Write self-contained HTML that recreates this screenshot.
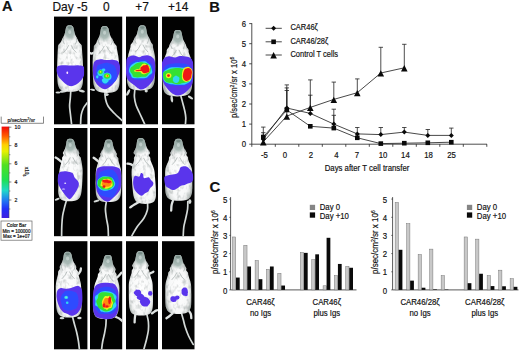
<!DOCTYPE html>
<html><head><meta charset="utf-8"><title>Figure</title>
<style>
html,body{margin:0;padding:0;background:#fff;}
body{width:520px;height:350px;overflow:hidden;font-family:"Liberation Sans",sans-serif;}
svg{display:block;}
svg text{font-family:"Liberation Sans",sans-serif;fill:#111;stroke:#111;stroke-width:0.18px;}
</style></head><body>
<svg width="520" height="350" viewBox="0 0 520 350">
<rect width="520" height="350" fill="#ffffff"/>
<defs>
<filter id="fz" x="-20%" y="-20%" width="140%" height="140%"><feGaussianBlur stdDeviation="0.55"/></filter>
<filter id="fz2" x="-20%" y="-20%" width="140%" height="140%"><feGaussianBlur stdDeviation="0.35"/></filter>
<radialGradient id="hg"><stop offset="0" stop-color="#93a8a3" stop-opacity="0.95"/><stop offset="0.6" stop-color="#9db0ab" stop-opacity="0.8"/><stop offset="1" stop-color="#b5c4c0" stop-opacity="0"/></radialGradient>
<filter id="fur" x="-10%" y="-10%" width="120%" height="120%">
<feTurbulence type="fractalNoise" baseFrequency="0.3 0.2" numOctaves="2" seed="11" result="n"/>
<feColorMatrix in="n" type="matrix" values="0 0 0 0 0  0 0 0 0 0  0 0 0 0 0  1.8 0 0 0 -0.86" result="a"/>
<feComposite in="a" in2="SourceGraphic" operator="in" result="sp"/>
<feFlood flood-color="#a3abaa" result="c"/><feComposite in="c" in2="sp" operator="in" result="dark"/>
<feMerge><feMergeNode in="SourceGraphic"/><feMergeNode in="dark"/></feMerge>
</filter>

<clipPath id="mc0"><path d="M69.70,24.20C70.34,24.20 71.11,24.20 71.63,24.41C72.16,24.61 72.51,24.95 72.84,25.43C73.16,25.91 73.38,26.51 73.59,27.28C73.80,28.04 73.92,29.09 74.12,30.01C74.32,30.94 74.53,31.96 74.79,32.82C75.05,33.67 75.35,34.41 75.68,35.14C76.02,35.87 76.40,36.42 76.81,37.20C77.21,37.97 77.54,38.97 78.12,39.80C78.69,40.62 79.53,41.30 80.26,42.12C80.99,42.94 82.05,43.77 82.49,44.72C82.93,45.67 82.73,45.75 82.91,47.80C83.09,49.85 83.37,53.90 83.57,57.03C83.76,60.17 83.97,63.19 84.07,66.61C84.17,70.03 84.28,74.36 84.17,77.55C84.06,80.74 84.13,83.54 83.40,85.76C82.67,87.98 81.99,89.75 79.80,90.89C77.62,92.03 73.47,92.60 70.30,92.60C67.13,92.60 62.97,92.03 60.76,90.89C58.56,89.75 57.85,87.98 57.08,85.76C56.31,83.54 56.34,80.74 56.17,77.55C56.00,74.36 56.03,70.03 56.07,66.61C56.11,63.19 56.27,60.17 56.41,57.03C56.55,53.90 56.76,49.85 56.91,47.80C57.05,45.75 56.84,45.67 57.27,44.72C57.70,43.77 58.74,42.94 59.46,42.12C60.17,41.30 61.00,40.62 61.56,39.80C62.12,38.97 62.43,37.97 62.82,37.20C63.21,36.42 63.58,35.87 63.91,35.14C64.23,34.41 64.52,33.67 64.76,32.82C65.01,31.96 65.20,30.94 65.38,30.01C65.56,29.09 65.66,28.04 65.86,27.28C66.06,26.51 66.26,25.91 66.58,25.43C66.90,24.95 67.25,24.61 67.77,24.41C68.29,24.20 69.06,24.20 69.70,24.20Z"/></clipPath>
<clipPath id="bc0"><path d="M69.70,25.20C70.34,25.20 71.11,25.20 71.63,25.40C72.16,25.60 72.51,25.93 72.84,26.40C73.16,26.86 73.38,27.45 73.59,28.20C73.80,28.94 73.92,29.96 74.12,30.86C74.32,31.76 74.53,32.76 74.79,33.59C75.05,34.42 75.35,35.15 75.68,35.86C76.02,36.57 76.40,37.10 76.81,37.85C77.21,38.61 77.67,39.59 78.12,40.38C78.56,41.18 78.89,41.85 79.46,42.65C80.02,43.45 81.11,44.26 81.52,45.18C81.93,46.10 81.74,46.18 81.91,48.18C82.07,50.17 82.32,54.12 82.50,57.17C82.68,60.22 82.88,63.16 82.97,66.49C83.07,69.82 83.17,74.04 83.07,77.15C82.97,80.26 83.03,82.98 82.37,85.14C81.70,87.30 81.07,89.02 79.06,90.13C77.05,91.24 73.22,91.80 70.30,91.80C67.38,91.80 63.54,91.24 61.51,90.13C59.48,89.02 58.82,87.30 58.11,85.14C57.41,82.98 57.42,80.26 57.27,77.15C57.11,74.04 57.14,69.82 57.17,66.49C57.21,63.16 57.35,60.22 57.48,57.17C57.60,54.12 57.78,50.17 57.91,48.18C58.03,46.18 57.85,46.10 58.24,45.18C58.63,44.26 59.70,43.45 60.26,42.65C60.81,41.85 61.13,41.18 61.56,40.38C61.98,39.59 62.43,38.61 62.82,37.85C63.21,37.10 63.58,36.57 63.91,35.86C64.23,35.15 64.52,34.42 64.76,33.59C65.01,32.76 65.20,31.76 65.38,30.86C65.56,29.96 65.66,28.94 65.86,28.20C66.06,27.45 66.26,26.86 66.58,26.40C66.90,25.93 67.25,25.60 67.77,25.40C68.29,25.20 69.06,25.20 69.70,25.20Z"/></clipPath>
<radialGradient id="mg0" gradientUnits="userSpaceOnUse" cx="70.3" cy="64.5" r="35.3" gradientTransform="translate(70.3,0.0) scale(0.43,1) translate(-70.3,0.0)"><stop offset="0" stop-color="#ffffff"/><stop offset="0.70" stop-color="#f7f8f8"/><stop offset="0.88" stop-color="#dfe2e1"/><stop offset="1" stop-color="#a9b0ae"/></radialGradient>
<clipPath id="pc0"><rect x="54.0" y="16.6" width="33.4" height="107.7"/></clipPath>
<clipPath id="mc1"><path d="M104.60,25.00C105.24,25.00 106.01,25.00 106.54,25.21C107.07,25.41 107.43,25.76 107.77,26.24C108.11,26.72 108.33,27.33 108.56,28.10C108.79,28.86 108.94,29.92 109.16,30.85C109.38,31.78 109.61,32.81 109.89,33.67C110.17,34.53 110.49,35.27 110.84,36.01C111.19,36.74 111.59,37.29 112.01,38.07C112.43,38.85 112.84,39.86 113.38,40.69C113.92,41.51 114.57,42.20 115.26,43.03C115.94,43.85 117.03,44.69 117.48,45.64C117.93,46.59 117.60,46.67 117.96,48.74C118.32,50.80 119.22,54.87 119.62,58.02C120.02,61.18 120.18,64.22 120.36,67.66C120.55,71.10 120.76,75.45 120.72,78.66C120.67,81.87 120.81,84.68 120.12,86.92C119.42,89.16 118.76,90.93 116.54,92.08C114.32,93.23 110.06,93.80 106.80,93.80C103.54,93.80 99.25,93.23 96.95,92.08C94.66,90.93 93.88,89.16 93.04,86.92C92.20,84.68 92.16,81.87 91.92,78.66C91.67,75.45 91.60,71.10 91.56,67.66C91.53,64.22 91.49,61.18 91.69,58.02C91.89,54.87 92.53,50.80 92.76,48.74C92.98,46.67 92.65,46.59 93.04,45.64C93.43,44.69 94.47,43.85 95.10,43.03C95.73,42.20 96.33,41.51 96.82,40.69C97.31,39.86 97.65,38.85 98.03,38.07C98.40,37.29 98.76,36.74 99.06,36.01C99.37,35.27 99.64,34.53 99.86,33.67C100.09,32.81 100.26,31.78 100.42,30.85C100.58,29.92 100.65,28.86 100.83,28.10C101.02,27.33 101.20,26.72 101.51,26.24C101.82,25.76 102.16,25.41 102.67,25.21C103.19,25.00 103.96,25.00 104.60,25.00Z"/></clipPath>
<clipPath id="bc1"><path d="M104.60,26.00C105.24,26.00 106.01,26.00 106.54,26.20C107.07,26.40 107.43,26.74 107.77,27.21C108.11,27.68 108.33,28.27 108.56,29.02C108.79,29.76 108.94,30.79 109.16,31.70C109.38,32.60 109.61,33.60 109.89,34.44C110.17,35.28 110.49,36.01 110.84,36.72C111.19,37.43 111.59,37.97 112.01,38.73C112.43,39.49 112.97,40.47 113.38,41.28C113.79,42.08 113.93,42.75 114.46,43.55C114.98,44.36 116.09,45.17 116.51,46.10C116.93,47.03 116.62,47.10 116.96,49.11C117.30,51.12 118.17,55.09 118.56,58.16C118.94,61.23 119.09,64.19 119.26,67.54C119.44,70.89 119.65,75.13 119.62,78.26C119.59,81.39 119.72,84.12 119.08,86.30C118.44,88.48 117.84,90.21 115.79,91.33C113.74,92.44 109.81,93.00 106.80,93.00C103.79,93.00 99.82,92.44 97.70,91.33C95.58,90.21 94.86,88.48 94.08,86.30C93.30,84.12 93.25,81.39 93.02,78.26C92.78,75.13 92.71,70.89 92.66,67.54C92.62,64.19 92.57,61.23 92.75,58.16C92.94,55.09 93.55,51.12 93.76,49.11C93.97,47.10 93.65,47.03 94.01,46.10C94.36,45.17 95.43,44.36 95.90,43.55C96.37,42.75 96.47,42.08 96.82,41.28C97.18,40.47 97.65,39.49 98.03,38.73C98.40,37.97 98.76,37.43 99.06,36.72C99.37,36.01 99.64,35.28 99.86,34.44C100.09,33.60 100.26,32.60 100.42,31.70C100.58,30.79 100.65,29.76 100.83,29.02C101.02,28.27 101.20,27.68 101.51,27.21C101.82,26.74 102.16,26.40 102.67,26.20C103.19,26.00 103.96,26.00 104.60,26.00Z"/></clipPath>
<radialGradient id="mg1" gradientUnits="userSpaceOnUse" cx="106.8" cy="65.5" r="35.5" gradientTransform="translate(106.8,0.0) scale(0.43,1) translate(-106.8,0.0)"><stop offset="0" stop-color="#ffffff"/><stop offset="0.70" stop-color="#f7f8f8"/><stop offset="0.88" stop-color="#dfe2e1"/><stop offset="1" stop-color="#a9b0ae"/></radialGradient>
<clipPath id="pc1"><rect x="90.0" y="16.6" width="32.2" height="107.7"/></clipPath>
<clipPath id="mc2"><path d="M142.30,24.20C142.94,24.20 143.71,24.20 144.23,24.40C144.74,24.60 145.09,24.94 145.40,25.41C145.71,25.88 145.90,26.47 146.09,27.22C146.28,27.97 146.36,29.00 146.53,29.90C146.69,30.81 146.87,31.82 147.10,32.65C147.33,33.49 147.60,34.22 147.92,34.94C148.23,35.65 148.59,36.19 148.97,36.95C149.35,37.71 149.72,38.69 150.19,39.50C150.66,40.30 151.17,40.97 151.77,41.78C152.38,42.59 153.43,43.40 153.82,44.33C154.21,45.26 153.73,45.34 154.11,47.35C154.50,49.36 155.76,53.33 156.13,56.41C156.50,59.48 156.36,62.45 156.35,65.80C156.34,69.16 156.30,73.41 156.07,76.54C155.84,79.67 155.82,82.41 154.96,84.59C154.10,86.77 153.30,88.50 150.91,89.62C148.52,90.74 144.02,91.30 140.60,91.30C137.18,91.30 132.71,90.74 130.37,89.62C128.04,88.50 127.33,86.77 126.58,84.59C125.83,82.41 125.95,79.67 125.87,76.54C125.80,73.41 125.99,69.16 126.15,65.80C126.31,62.45 126.31,59.48 126.84,56.41C127.36,53.33 128.83,49.36 129.31,47.35C129.80,45.34 129.33,45.26 129.76,44.33C130.20,43.40 131.29,42.59 131.93,41.78C132.58,40.97 133.12,40.30 133.63,39.50C134.14,38.69 134.57,37.71 134.99,36.95C135.40,36.19 135.79,35.65 136.14,34.94C136.49,34.22 136.80,33.49 137.07,32.65C137.35,31.82 137.57,30.81 137.79,29.90C138.00,29.00 138.13,27.97 138.36,27.22C138.59,26.47 138.81,25.88 139.14,25.41C139.48,24.94 139.84,24.60 140.36,24.40C140.89,24.20 141.66,24.20 142.30,24.20Z"/></clipPath>
<clipPath id="bc2"><path d="M142.30,25.20C142.94,25.20 143.71,25.20 144.23,25.40C144.74,25.59 145.09,25.92 145.40,26.38C145.71,26.83 145.90,27.41 146.09,28.14C146.28,28.87 146.36,29.87 146.53,30.75C146.69,31.63 146.87,32.61 147.10,33.43C147.33,34.24 147.60,34.95 147.92,35.65C148.23,36.34 148.59,36.87 148.97,37.61C149.35,38.35 149.86,39.30 150.19,40.09C150.53,40.87 150.53,41.52 150.97,42.31C151.42,43.09 152.49,43.89 152.85,44.79C153.20,45.69 152.74,45.77 153.11,47.73C153.48,49.69 154.71,53.55 155.06,56.54C155.42,59.54 155.26,62.42 155.25,65.69C155.23,68.95 155.19,73.09 154.97,76.13C154.75,79.18 154.73,81.85 153.93,83.97C153.13,86.09 152.38,87.78 150.16,88.87C147.94,89.96 143.77,90.50 140.60,90.50C137.43,90.50 133.29,89.96 131.12,88.87C128.96,87.78 128.30,86.09 127.61,83.97C126.92,81.85 127.03,79.18 126.97,76.13C126.91,73.09 127.09,68.95 127.25,65.69C127.40,62.42 127.39,59.54 127.90,56.54C128.42,53.55 129.84,49.69 130.31,47.73C130.78,45.77 130.33,45.69 130.73,44.79C131.14,43.89 132.25,43.09 132.73,42.31C133.22,41.52 133.26,40.87 133.63,40.09C134.01,39.30 134.57,38.35 134.99,37.61C135.40,36.87 135.79,36.34 136.14,35.65C136.49,34.95 136.80,34.24 137.07,33.43C137.35,32.61 137.57,31.63 137.79,30.75C138.00,29.87 138.13,28.87 138.36,28.14C138.59,27.41 138.81,26.83 139.14,26.38C139.48,25.92 139.84,25.59 140.36,25.40C140.89,25.20 141.66,25.20 142.30,25.20Z"/></clipPath>
<radialGradient id="mg2" gradientUnits="userSpaceOnUse" cx="140.6" cy="63.9" r="34.6" gradientTransform="translate(140.6,0.0) scale(0.43,1) translate(-140.6,0.0)"><stop offset="0" stop-color="#ffffff"/><stop offset="0.70" stop-color="#f7f8f8"/><stop offset="0.88" stop-color="#dfe2e1"/><stop offset="1" stop-color="#a9b0ae"/></radialGradient>
<clipPath id="pc2"><rect x="126.0" y="16.6" width="32.0" height="107.7"/></clipPath>
<clipPath id="mc3"><path d="M177.80,28.90C178.44,28.90 179.21,28.90 179.73,29.11C180.25,29.31 180.60,29.65 180.92,30.13C181.24,30.61 181.44,31.21 181.65,31.98C181.85,32.74 181.95,33.79 182.14,34.71C182.32,35.64 182.52,36.66 182.76,37.52C183.01,38.37 183.30,39.11 183.62,39.84C183.95,40.57 184.32,41.12 184.72,41.90C185.11,42.67 185.53,43.67 185.99,44.50C186.45,45.32 186.87,46.00 187.46,46.82C188.04,47.64 189.11,48.47 189.51,49.42C189.92,50.37 189.28,50.45 189.86,52.50C190.45,54.55 192.43,58.60 193.03,61.73C193.63,64.87 193.39,67.89 193.45,71.31C193.51,74.73 193.57,79.06 193.39,82.25C193.21,85.44 193.25,88.24 192.39,90.46C191.53,92.68 190.72,94.45 188.22,95.59C185.72,96.73 181.00,97.30 177.40,97.30C173.80,97.30 169.08,96.73 166.60,95.59C164.11,94.45 163.33,92.68 162.49,90.46C161.66,88.24 161.73,85.44 161.59,82.25C161.45,79.06 161.55,74.73 161.65,71.31C161.75,67.89 161.55,64.87 162.19,61.73C162.82,58.60 164.85,54.55 165.46,52.50C166.07,50.45 165.43,50.37 165.85,49.42C166.26,48.47 167.34,47.64 167.94,46.82C168.53,46.00 168.96,45.32 169.43,44.50C169.89,43.67 170.33,42.67 170.73,41.90C171.14,41.12 171.51,40.57 171.85,39.84C172.18,39.11 172.48,38.37 172.74,37.52C172.99,36.66 173.20,35.64 173.40,34.71C173.59,33.79 173.71,32.74 173.92,31.98C174.13,31.21 174.34,30.61 174.66,30.13C174.99,29.65 175.34,29.31 175.87,29.11C176.39,28.90 177.16,28.90 177.80,28.90Z"/></clipPath>
<clipPath id="bc3"><path d="M177.80,29.90C178.44,29.90 179.21,29.90 179.73,30.10C180.25,30.30 180.60,30.63 180.92,31.10C181.24,31.56 181.44,32.15 181.65,32.90C181.85,33.64 181.95,34.66 182.14,35.56C182.32,36.46 182.52,37.46 182.76,38.29C183.01,39.12 183.30,39.85 183.62,40.56C183.95,41.27 184.32,41.80 184.72,42.55C185.11,43.31 185.67,44.29 185.99,45.08C186.31,45.88 186.23,46.55 186.66,47.35C187.08,48.15 188.18,48.96 188.54,49.88C188.91,50.80 188.29,50.88 188.86,52.88C189.43,54.87 191.38,58.82 191.96,61.87C192.55,64.92 192.30,67.86 192.35,71.19C192.41,74.52 192.45,78.74 192.29,81.85C192.12,84.96 192.15,87.68 191.35,89.84C190.55,92.00 189.80,93.72 187.47,94.83C185.15,95.94 180.75,96.50 177.40,96.50C174.05,96.50 169.66,95.94 167.35,94.83C165.03,93.72 164.30,92.00 163.53,89.84C162.75,87.68 162.82,84.96 162.69,81.85C162.56,78.74 162.66,74.52 162.75,71.19C162.85,67.86 162.63,64.92 163.25,61.87C163.87,58.82 165.87,54.87 166.46,52.88C167.06,50.88 166.44,50.80 166.82,49.88C167.19,48.96 168.30,48.15 168.74,47.35C169.17,46.55 169.10,45.88 169.43,45.08C169.76,44.29 170.33,43.31 170.73,42.55C171.14,41.80 171.51,41.27 171.85,40.56C172.18,39.85 172.48,39.12 172.74,38.29C172.99,37.46 173.20,36.46 173.40,35.56C173.59,34.66 173.71,33.64 173.92,32.90C174.13,32.15 174.34,31.56 174.66,31.10C174.99,30.63 175.34,30.30 175.87,30.10C176.39,29.90 177.16,29.90 177.80,29.90Z"/></clipPath>
<radialGradient id="mg3" gradientUnits="userSpaceOnUse" cx="177.4" cy="69.2" r="35.3" gradientTransform="translate(177.4,0.0) scale(0.43,1) translate(-177.4,0.0)"><stop offset="0" stop-color="#ffffff"/><stop offset="0.70" stop-color="#f7f8f8"/><stop offset="0.88" stop-color="#dfe2e1"/><stop offset="1" stop-color="#a9b0ae"/></radialGradient>
<clipPath id="pc3"><rect x="162.0" y="16.6" width="32.5" height="107.7"/></clipPath>
<clipPath id="mc4"><path d="M70.20,137.80C70.84,137.80 71.61,137.80 72.14,137.99C72.68,138.19 73.05,138.51 73.40,138.96C73.75,139.41 73.99,139.97 74.25,140.69C74.50,141.41 74.67,142.39 74.91,143.26C75.16,144.12 75.42,145.09 75.72,145.89C76.02,146.69 76.36,147.39 76.73,148.07C77.11,148.76 77.51,149.27 77.96,150.00C78.40,150.73 79.10,151.67 79.40,152.44C79.69,153.21 79.35,153.85 79.74,154.62C80.12,155.39 81.28,156.17 81.69,157.06C82.10,157.95 81.86,158.02 82.19,159.95C82.52,161.88 83.45,165.67 83.68,168.62C83.91,171.56 83.70,174.39 83.59,177.60C83.49,180.81 83.34,184.88 83.05,187.88C82.76,190.87 82.66,193.49 81.87,195.58C81.07,197.67 80.33,199.32 78.26,200.39C76.18,201.46 72.32,202.00 69.40,202.00C66.48,202.00 62.68,201.46 60.71,200.39C58.75,199.32 58.19,197.67 57.61,195.58C57.04,193.49 57.22,190.87 57.25,187.88C57.28,184.88 57.56,180.81 57.79,177.60C58.03,174.39 58.12,171.56 58.66,168.62C59.19,165.67 60.58,161.88 60.99,159.95C61.40,158.02 60.83,157.95 61.13,157.06C61.42,156.17 62.49,155.39 62.78,154.62C63.06,153.85 62.64,153.21 62.84,152.44C63.04,151.67 63.62,150.73 63.97,150.00C64.33,149.27 64.67,148.76 64.96,148.07C65.24,147.39 65.49,146.69 65.69,145.89C65.90,145.09 66.04,144.12 66.17,143.26C66.31,142.39 66.36,141.41 66.52,140.69C66.68,139.97 66.85,139.41 67.14,138.96C67.44,138.51 67.77,138.19 68.28,137.99C68.79,137.80 69.56,137.80 70.20,137.80Z"/></clipPath>
<clipPath id="bc4"><path d="M70.20,138.80C70.84,138.80 71.61,138.80 72.14,138.99C72.68,139.17 73.05,139.49 73.40,139.92C73.75,140.36 73.99,140.91 74.25,141.61C74.50,142.30 74.67,143.26 74.91,144.10C75.16,144.95 75.42,145.88 75.72,146.66C76.02,147.44 76.36,148.12 76.73,148.78C77.11,149.45 77.51,149.95 77.96,150.66C78.40,151.36 79.24,152.28 79.40,153.03C79.56,153.78 78.72,154.40 78.94,155.15C79.16,155.90 80.34,156.66 80.72,157.52C81.10,158.38 80.87,158.46 81.19,160.33C81.51,162.20 82.40,165.89 82.61,168.75C82.83,171.61 82.60,174.37 82.49,177.49C82.38,180.61 82.22,184.56 81.95,187.47C81.67,190.38 81.57,192.93 80.83,194.96C80.09,196.99 79.41,198.60 77.51,199.64C75.60,200.68 72.07,201.20 69.40,201.20C66.73,201.20 63.25,200.68 61.46,199.64C59.67,198.60 59.17,196.99 58.65,194.96C58.13,192.93 58.31,190.38 58.35,187.47C58.39,184.56 58.66,180.61 58.89,177.49C59.12,174.37 59.21,171.61 59.72,168.75C60.24,165.89 61.59,162.20 61.99,160.33C62.39,158.46 61.83,158.38 62.10,157.52C62.36,156.66 63.45,155.90 63.58,155.15C63.70,154.40 62.77,153.78 62.84,153.03C62.90,152.28 63.62,151.36 63.97,150.66C64.33,149.95 64.67,149.45 64.96,148.78C65.24,148.12 65.49,147.44 65.69,146.66C65.90,145.88 66.04,144.95 66.17,144.10C66.31,143.26 66.36,142.30 66.52,141.61C66.68,140.91 66.85,140.36 67.14,139.92C67.44,139.49 67.77,139.17 68.28,138.99C68.79,138.80 69.56,138.80 70.20,138.80Z"/></clipPath>
<radialGradient id="mg4" gradientUnits="userSpaceOnUse" cx="69.4" cy="176.0" r="33.2" gradientTransform="translate(69.4,0.0) scale(0.43,1) translate(-69.4,0.0)"><stop offset="0" stop-color="#ffffff"/><stop offset="0.70" stop-color="#f7f8f8"/><stop offset="0.88" stop-color="#dfe2e1"/><stop offset="1" stop-color="#a9b0ae"/></radialGradient>
<clipPath id="pc4"><rect x="54.0" y="128.0" width="33.4" height="108.2"/></clipPath>
<clipPath id="mc5"><path d="M108.60,138.60C109.24,138.60 110.01,138.60 110.53,138.79C111.05,138.99 111.40,139.31 111.72,139.76C112.05,140.20 112.25,140.77 112.46,141.49C112.66,142.21 112.76,143.19 112.95,144.06C113.14,144.92 113.34,145.89 113.59,146.69C113.84,147.49 114.13,148.19 114.46,148.87C114.78,149.56 115.16,150.07 115.55,150.80C115.95,151.53 116.54,152.47 116.83,153.24C117.13,154.01 116.95,154.65 117.35,155.42C117.74,156.19 118.85,156.97 119.21,157.86C119.57,158.75 119.07,158.82 119.53,160.75C119.99,162.67 121.51,166.47 121.99,169.42C122.46,172.36 122.32,175.19 122.38,178.40C122.44,181.61 122.49,185.68 122.34,188.68C122.20,191.67 122.23,194.29 121.49,196.38C120.74,198.47 120.04,200.12 117.86,201.19C115.68,202.26 111.55,202.80 108.40,202.80C105.25,202.80 101.13,202.26 98.95,201.19C96.78,200.12 96.09,198.47 95.35,196.38C94.62,194.29 94.67,191.67 94.54,188.68C94.41,185.68 94.50,181.61 94.58,178.40C94.66,175.19 94.53,172.36 95.02,169.42C95.51,166.47 97.06,162.67 97.53,160.75C98.01,158.82 97.50,158.75 97.87,157.86C98.24,156.97 99.35,156.19 99.75,155.42C100.15,154.65 99.97,154.01 100.27,153.24C100.58,152.47 101.17,151.53 101.57,150.80C101.97,150.07 102.35,149.56 102.68,148.87C103.01,148.19 103.31,147.49 103.56,146.69C103.82,145.89 104.02,144.92 104.21,144.06C104.41,143.19 104.52,142.21 104.73,141.49C104.94,140.77 105.15,140.20 105.47,139.76C105.79,139.31 106.15,138.99 106.67,138.79C107.19,138.60 107.96,138.60 108.60,138.60Z"/></clipPath>
<clipPath id="bc5"><path d="M108.60,139.60C109.24,139.60 110.01,139.60 110.53,139.79C111.05,139.97 111.40,140.29 111.72,140.72C112.05,141.16 112.25,141.71 112.46,142.41C112.66,143.10 112.76,144.06 112.95,144.90C113.14,145.75 113.34,146.68 113.59,147.46C113.84,148.24 114.13,148.92 114.46,149.58C114.78,150.25 115.16,150.75 115.55,151.46C115.95,152.16 116.67,153.08 116.83,153.83C117.00,154.58 116.31,155.20 116.55,155.95C116.78,156.70 117.91,157.46 118.24,158.32C118.57,159.18 118.08,159.26 118.53,161.13C118.98,163.00 120.46,166.69 120.92,169.55C121.38,172.41 121.22,175.17 121.28,178.29C121.33,181.41 121.38,185.36 121.24,188.27C121.11,191.18 121.14,193.73 120.45,195.76C119.76,197.79 119.12,199.40 117.11,200.44C115.10,201.48 111.30,202.00 108.40,202.00C105.50,202.00 101.70,201.48 99.70,200.44C97.70,199.40 97.06,197.79 96.39,195.76C95.71,193.73 95.76,191.18 95.64,188.27C95.53,185.36 95.60,181.41 95.68,178.29C95.75,175.17 95.61,172.41 96.09,169.55C96.56,166.69 98.07,163.00 98.53,161.13C98.99,159.26 98.50,159.18 98.84,158.32C99.18,157.46 100.31,156.70 100.55,155.95C100.79,155.20 100.10,154.58 100.27,153.83C100.44,153.08 101.17,152.16 101.57,151.46C101.97,150.75 102.35,150.25 102.68,149.58C103.01,148.92 103.31,148.24 103.56,147.46C103.82,146.68 104.02,145.75 104.21,144.90C104.41,144.06 104.52,143.10 104.73,142.41C104.94,141.71 105.15,141.16 105.47,140.72C105.79,140.29 106.15,139.97 106.67,139.79C107.19,139.60 107.96,139.60 108.60,139.60Z"/></clipPath>
<radialGradient id="mg5" gradientUnits="userSpaceOnUse" cx="108.4" cy="176.8" r="33.2" gradientTransform="translate(108.4,0.0) scale(0.43,1) translate(-108.4,0.0)"><stop offset="0" stop-color="#ffffff"/><stop offset="0.70" stop-color="#f7f8f8"/><stop offset="0.88" stop-color="#dfe2e1"/><stop offset="1" stop-color="#a9b0ae"/></radialGradient>
<clipPath id="pc5"><rect x="90.0" y="128.0" width="32.2" height="108.2"/></clipPath>
<clipPath id="mc6"><path d="M140.70,137.00C141.34,137.00 142.11,137.00 142.65,137.20C143.18,137.41 143.56,137.75 143.91,138.22C144.26,138.70 144.51,139.29 144.77,140.05C145.03,140.81 145.21,141.85 145.46,142.76C145.71,143.68 145.98,144.70 146.29,145.54C146.60,146.39 146.95,147.12 147.32,147.85C147.70,148.57 148.12,149.11 148.57,149.88C149.02,150.65 149.89,151.64 150.03,152.46C150.17,153.27 149.23,153.95 149.43,154.76C149.62,155.58 150.82,156.40 151.20,157.34C151.57,158.28 151.02,158.36 151.69,160.39C152.36,162.42 154.47,166.44 155.23,169.54C155.99,172.65 155.96,175.65 156.25,179.04C156.55,182.43 156.90,186.72 156.99,189.88C157.08,193.05 157.31,195.82 156.78,198.02C156.25,200.22 155.73,201.98 153.82,203.11C151.91,204.24 148.18,204.80 145.30,204.80C142.42,204.80 138.62,204.24 136.55,203.11C134.48,201.98 133.73,200.22 132.90,198.02C132.08,195.82 131.93,193.05 131.59,189.88C131.25,186.72 131.02,182.43 130.85,179.04C130.69,175.65 130.25,172.65 130.59,169.54C130.93,166.44 132.49,162.42 132.89,160.39C133.28,158.36 132.71,158.28 132.96,157.34C133.21,156.40 134.30,155.58 134.39,154.76C134.47,153.95 133.44,153.27 133.47,152.46C133.50,151.64 134.24,150.65 134.58,149.88C134.93,149.11 135.27,148.57 135.55,147.85C135.83,147.12 136.07,146.39 136.27,145.54C136.46,144.70 136.59,143.68 136.72,142.76C136.85,141.85 136.89,140.81 137.04,140.05C137.20,139.29 137.37,138.70 137.65,138.22C137.94,137.75 138.27,137.41 138.78,137.20C139.29,137.00 140.06,137.00 140.70,137.00Z"/></clipPath>
<clipPath id="bc6"><path d="M140.70,138.00C141.34,138.00 142.11,138.00 142.65,138.20C143.18,138.40 143.56,138.73 143.91,139.19C144.26,139.65 144.51,140.23 144.77,140.97C145.03,141.71 145.21,142.72 145.46,143.61C145.71,144.50 145.98,145.49 146.29,146.32C146.60,147.14 146.95,147.86 147.32,148.56C147.70,149.26 148.12,149.79 148.57,150.54C149.02,151.29 150.02,152.26 150.03,153.05C150.04,153.84 148.59,154.50 148.63,155.29C148.66,156.08 149.88,156.89 150.23,157.80C150.57,158.71 150.03,158.79 150.69,160.77C151.34,162.75 153.42,166.66 154.16,169.68C154.90,172.71 154.86,175.62 155.15,178.92C155.44,182.22 155.79,186.40 155.89,189.48C155.99,192.56 156.21,195.25 155.74,197.40C155.27,199.55 154.81,201.25 153.07,202.35C151.33,203.45 147.93,204.00 145.30,204.00C142.67,204.00 139.19,203.45 137.30,202.35C135.40,201.25 134.70,199.55 133.94,197.40C133.17,195.25 133.02,192.56 132.69,189.48C132.36,186.40 132.12,182.22 131.95,178.92C131.78,175.62 131.33,172.71 131.66,169.68C131.98,166.66 133.51,162.75 133.89,160.77C134.27,158.79 133.72,158.71 133.93,157.80C134.15,156.89 135.26,156.08 135.19,155.29C135.11,154.50 133.57,153.84 133.47,153.05C133.37,152.26 134.24,151.29 134.58,150.54C134.93,149.79 135.27,149.26 135.55,148.56C135.83,147.86 136.07,147.14 136.27,146.32C136.46,145.49 136.59,144.50 136.72,143.61C136.85,142.72 136.89,141.71 137.04,140.97C137.20,140.23 137.37,139.65 137.65,139.19C137.94,138.73 138.27,138.40 138.78,138.20C139.29,138.00 140.06,138.00 140.70,138.00Z"/></clipPath>
<radialGradient id="mg6" gradientUnits="userSpaceOnUse" cx="145.3" cy="177.0" r="35.0" gradientTransform="translate(145.3,0.0) scale(0.43,1) translate(-145.3,0.0)"><stop offset="0" stop-color="#ffffff"/><stop offset="0.70" stop-color="#f7f8f8"/><stop offset="0.88" stop-color="#dfe2e1"/><stop offset="1" stop-color="#a9b0ae"/></radialGradient>
<clipPath id="pc6"><rect x="126.0" y="128.0" width="32.0" height="108.2"/></clipPath>
<clipPath id="mc7"><path d="M178.40,137.80C179.04,137.80 179.81,137.80 180.33,137.99C180.86,138.18 181.21,138.50 181.54,138.95C181.86,139.40 182.07,139.96 182.28,140.67C182.49,141.38 182.61,142.36 182.80,143.22C183.00,144.08 183.21,145.04 183.46,145.84C183.72,146.64 184.02,147.33 184.35,148.01C184.69,148.69 185.06,149.20 185.47,149.92C185.87,150.65 186.49,151.58 186.77,152.35C187.05,153.11 186.77,153.75 187.14,154.52C187.52,155.28 188.63,156.06 189.00,156.94C189.36,157.82 188.70,157.90 189.34,159.81C189.98,161.72 192.18,165.50 192.85,168.42C193.52,171.35 193.25,174.17 193.35,177.36C193.44,180.55 193.54,184.59 193.41,187.56C193.28,190.54 193.35,193.15 192.58,195.22C191.81,197.29 191.08,198.94 188.79,200.01C186.49,201.07 182.13,201.60 178.80,201.60C175.47,201.60 171.10,201.07 168.79,200.01C166.48,198.94 165.74,197.29 164.94,195.22C164.15,193.15 164.18,190.54 164.01,187.56C163.85,184.59 163.89,180.55 163.95,177.36C164.00,174.17 163.70,171.35 164.33,168.42C164.96,165.50 167.12,161.72 167.74,159.81C168.36,157.90 167.69,157.82 168.04,156.94C168.40,156.06 169.50,155.28 169.86,154.52C170.23,153.75 169.94,153.11 170.21,152.35C170.48,151.58 171.09,150.65 171.48,149.92C171.88,149.20 172.25,148.69 172.58,148.01C172.90,147.33 173.19,146.64 173.44,145.84C173.68,145.04 173.88,144.08 174.06,143.22C174.25,142.36 174.35,141.38 174.55,140.67C174.76,139.96 174.96,139.40 175.28,138.95C175.60,138.50 175.95,138.18 176.47,137.99C176.99,137.80 177.76,137.80 178.40,137.80Z"/></clipPath>
<clipPath id="bc7"><path d="M178.40,138.80C179.04,138.80 179.81,138.80 180.33,138.99C180.86,139.17 181.21,139.48 181.54,139.92C181.86,140.35 182.07,140.90 182.28,141.59C182.49,142.28 182.61,143.23 182.80,144.07C183.00,144.91 183.21,145.84 183.46,146.61C183.72,147.39 184.02,148.06 184.35,148.72C184.69,149.38 185.06,149.88 185.47,150.58C185.87,151.28 186.63,152.19 186.77,152.94C186.92,153.68 186.14,154.30 186.34,155.04C186.55,155.79 187.69,156.54 188.03,157.40C188.36,158.26 187.71,158.33 188.34,160.19C188.96,162.05 191.13,165.72 191.78,168.56C192.44,171.40 192.16,174.14 192.25,177.24C192.34,180.34 192.43,184.27 192.31,187.16C192.19,190.05 192.26,192.59 191.54,194.60C190.83,196.62 190.16,198.22 188.04,199.25C185.91,200.28 181.88,200.80 178.80,200.80C175.72,200.80 171.68,200.28 169.54,199.25C167.40,198.22 166.71,196.62 165.98,194.60C165.24,192.59 165.27,190.05 165.11,187.16C164.96,184.27 165.00,180.34 165.05,177.24C165.10,174.14 164.79,171.40 165.40,168.56C166.01,165.72 168.14,162.05 168.74,160.19C169.34,158.33 168.69,158.26 169.01,157.40C169.34,156.54 170.47,155.79 170.66,155.04C170.86,154.30 170.07,153.68 170.21,152.94C170.35,152.19 171.09,151.28 171.48,150.58C171.88,149.88 172.25,149.38 172.58,148.72C172.90,148.06 173.19,147.39 173.44,146.61C173.68,145.84 173.88,144.91 174.06,144.07C174.25,143.23 174.35,142.28 174.55,141.59C174.76,140.90 174.96,140.35 175.28,139.92C175.60,139.48 175.95,139.17 176.47,138.99C176.99,138.80 177.76,138.80 178.40,138.80Z"/></clipPath>
<radialGradient id="mg7" gradientUnits="userSpaceOnUse" cx="178.8" cy="175.8" r="33.0" gradientTransform="translate(178.8,0.0) scale(0.43,1) translate(-178.8,0.0)"><stop offset="0" stop-color="#ffffff"/><stop offset="0.70" stop-color="#f7f8f8"/><stop offset="0.88" stop-color="#dfe2e1"/><stop offset="1" stop-color="#a9b0ae"/></radialGradient>
<clipPath id="pc7"><rect x="162.0" y="128.0" width="32.5" height="108.2"/></clipPath>
<clipPath id="mc8"><path d="M67.60,250.80C68.24,250.80 69.01,250.80 69.54,251.00C70.06,251.21 70.42,251.54 70.76,252.02C71.09,252.49 71.31,253.09 71.54,253.84C71.76,254.60 71.89,255.63 72.11,256.55C72.32,257.46 72.54,258.47 72.82,259.32C73.09,260.16 73.40,260.89 73.74,261.62C74.09,262.34 74.48,262.88 74.90,263.64C75.31,264.41 75.90,265.40 76.24,266.21C76.59,267.02 76.53,267.70 76.98,268.51C77.43,269.32 78.55,270.14 78.94,271.08C79.34,272.02 78.87,272.09 79.35,274.12C79.84,276.15 81.33,280.15 81.85,283.25C82.37,286.35 82.34,289.33 82.49,292.71C82.64,296.09 82.81,300.37 82.75,303.53C82.68,306.68 82.80,309.44 82.11,311.64C81.42,313.84 80.76,315.58 78.61,316.71C76.46,317.84 72.35,318.40 69.20,318.40C66.05,318.40 61.91,317.84 59.71,316.71C57.50,315.58 56.77,313.84 55.97,311.64C55.18,309.44 55.16,306.68 54.95,303.53C54.73,300.37 54.70,296.09 54.69,292.71C54.68,289.33 54.51,286.35 54.89,283.25C55.26,280.15 56.56,276.15 56.95,274.12C57.34,272.09 56.86,272.02 57.22,271.08C57.57,270.14 58.65,269.32 59.06,268.51C59.47,267.70 59.38,267.02 59.68,266.21C59.99,265.40 60.53,264.41 60.91,263.64C61.29,262.88 61.66,262.34 61.97,261.62C62.28,260.89 62.55,260.16 62.79,259.32C63.02,258.47 63.20,257.46 63.37,256.55C63.54,255.63 63.62,254.60 63.81,253.84C64.00,253.09 64.19,252.49 64.50,252.02C64.81,251.54 65.16,251.21 65.67,251.00C66.19,250.80 66.96,250.80 67.60,250.80Z"/></clipPath>
<clipPath id="bc8"><path d="M67.60,251.80C68.24,251.80 69.01,251.80 69.54,252.00C70.06,252.19 70.42,252.52 70.76,252.98C71.09,253.45 71.31,254.03 71.54,254.76C71.76,255.50 71.89,256.50 72.11,257.39C72.32,258.28 72.54,259.27 72.82,260.09C73.09,260.91 73.40,261.63 73.74,262.33C74.09,263.03 74.48,263.56 74.90,264.30C75.31,265.05 76.03,266.01 76.24,266.80C76.46,267.59 75.89,268.25 76.18,269.04C76.47,269.83 77.61,270.63 77.97,271.54C78.34,272.45 77.88,272.53 78.35,274.50C78.82,276.48 80.28,280.37 80.78,283.38C81.29,286.40 81.25,289.31 81.39,292.60C81.54,295.89 81.70,300.05 81.65,303.12C81.59,306.19 81.70,308.88 81.07,311.02C80.44,313.16 79.84,314.86 77.86,315.96C75.89,317.05 72.10,317.60 69.20,317.60C66.30,317.60 62.49,317.05 60.46,315.96C58.42,314.86 57.74,313.16 57.01,311.02C56.27,308.88 56.25,306.19 56.05,303.12C55.85,300.05 55.81,295.89 55.79,292.60C55.78,289.31 55.59,286.40 55.95,283.38C56.31,280.37 57.58,276.48 57.95,274.50C58.32,272.53 57.87,272.45 58.19,271.54C58.50,270.63 59.61,269.83 59.86,269.04C60.11,268.25 59.51,267.59 59.68,266.80C59.86,266.01 60.53,265.05 60.91,264.30C61.29,263.56 61.66,263.03 61.97,262.33C62.28,261.63 62.55,260.91 62.79,260.09C63.02,259.27 63.20,258.28 63.37,257.39C63.54,256.50 63.62,255.50 63.81,254.76C64.00,254.03 64.19,253.45 64.50,252.98C64.81,252.52 65.16,252.19 65.67,252.00C66.19,251.80 66.96,251.80 67.60,251.80Z"/></clipPath>
<radialGradient id="mg8" gradientUnits="userSpaceOnUse" cx="69.2" cy="290.7" r="34.9" gradientTransform="translate(69.2,0.0) scale(0.43,1) translate(-69.2,0.0)"><stop offset="0" stop-color="#ffffff"/><stop offset="0.70" stop-color="#f7f8f8"/><stop offset="0.88" stop-color="#dfe2e1"/><stop offset="1" stop-color="#a9b0ae"/></radialGradient>
<clipPath id="pc8"><rect x="54.0" y="241.2" width="33.4" height="108.1"/></clipPath>
<clipPath id="mc9"><path d="M108.00,253.90C108.64,253.90 109.41,253.90 109.92,254.10C110.44,254.30 110.78,254.63 111.08,255.09C111.39,255.55 111.58,256.14 111.76,256.87C111.94,257.61 112.01,258.63 112.17,259.52C112.33,260.41 112.49,261.40 112.71,262.23C112.93,263.05 113.20,263.77 113.50,264.48C113.81,265.18 114.16,265.71 114.54,266.46C114.91,267.21 115.51,268.18 115.73,268.97C115.95,269.76 115.55,270.43 115.85,271.22C116.16,272.01 117.24,272.82 117.56,273.73C117.88,274.64 117.31,274.72 117.77,276.70C118.23,278.69 119.89,282.60 120.33,285.63C120.77,288.66 120.46,291.58 120.41,294.88C120.36,298.19 120.28,302.37 120.03,305.46C119.78,308.54 119.73,311.24 118.91,313.39C118.09,315.54 117.33,317.25 115.11,318.35C112.89,319.45 108.75,320.00 105.60,320.00C102.45,320.00 98.35,319.45 96.21,318.35C94.07,317.25 93.44,315.54 92.77,313.39C92.11,311.24 92.25,308.54 92.23,305.46C92.20,302.37 92.42,298.19 92.61,294.88C92.80,291.58 92.70,288.66 93.36,285.63C94.02,282.60 95.97,278.69 96.57,276.70C97.18,274.72 96.61,274.64 97.00,273.73C97.38,272.82 98.53,272.01 98.89,271.22C99.25,270.43 98.90,269.76 99.17,268.97C99.45,268.18 100.13,267.21 100.55,266.46C100.98,265.71 101.37,265.18 101.73,264.48C102.08,263.77 102.40,263.05 102.68,262.23C102.97,261.40 103.20,260.41 103.43,259.52C103.65,258.63 103.79,257.61 104.03,256.87C104.26,256.14 104.49,255.55 104.83,255.09C105.17,254.63 105.53,254.30 106.06,254.10C106.59,253.90 107.36,253.90 108.00,253.90Z"/></clipPath>
<clipPath id="bc9"><path d="M108.00,254.90C108.64,254.90 109.41,254.90 109.92,255.09C110.44,255.29 110.78,255.61 111.08,256.06C111.39,256.51 111.58,257.08 111.76,257.79C111.94,258.51 112.01,259.50 112.17,260.37C112.33,261.23 112.49,262.20 112.71,263.00C112.93,263.81 113.20,264.50 113.50,265.19C113.81,265.87 114.16,266.39 114.54,267.12C114.91,267.85 115.65,268.79 115.73,269.56C115.82,270.33 114.91,270.98 115.05,271.75C115.19,272.52 116.31,273.30 116.59,274.19C116.88,275.08 116.33,275.15 116.77,277.08C117.22,279.01 118.84,282.82 119.26,285.76C119.69,288.71 119.37,291.55 119.31,294.77C119.26,297.98 119.17,302.05 118.93,305.05C118.69,308.05 118.63,310.68 117.87,312.77C117.11,314.86 116.41,316.52 114.36,317.59C112.32,318.66 108.50,319.20 105.60,319.20C102.70,319.20 98.92,318.66 96.96,317.59C94.99,316.52 94.41,314.86 93.81,312.77C93.20,310.68 93.34,308.05 93.33,305.05C93.31,302.05 93.53,297.98 93.71,294.77C93.90,291.55 93.79,288.71 94.43,285.76C95.08,282.82 96.98,279.01 97.57,277.08C98.16,275.15 97.61,275.08 97.97,274.19C98.32,273.30 99.49,272.52 99.69,271.75C99.89,270.98 99.03,270.33 99.17,269.56C99.32,268.79 100.13,267.85 100.55,267.12C100.98,266.39 101.37,265.87 101.73,265.19C102.08,264.50 102.40,263.81 102.68,263.00C102.97,262.20 103.20,261.23 103.43,260.37C103.65,259.50 103.79,258.51 104.03,257.79C104.26,257.08 104.49,256.51 104.83,256.06C105.17,255.61 105.53,255.29 106.06,255.09C106.59,254.90 107.36,254.90 108.00,254.90Z"/></clipPath>
<radialGradient id="mg9" gradientUnits="userSpaceOnUse" cx="105.6" cy="293.1" r="34.1" gradientTransform="translate(105.6,0.0) scale(0.43,1) translate(-105.6,0.0)"><stop offset="0" stop-color="#ffffff"/><stop offset="0.70" stop-color="#f7f8f8"/><stop offset="0.88" stop-color="#dfe2e1"/><stop offset="1" stop-color="#a9b0ae"/></radialGradient>
<clipPath id="pc9"><rect x="90.0" y="241.2" width="32.2" height="108.1"/></clipPath>
<clipPath id="mc10"><path d="M140.20,250.00C140.84,250.00 141.61,250.00 142.13,250.20C142.66,250.40 143.02,250.73 143.35,251.20C143.68,251.66 143.89,252.25 144.11,252.99C144.33,253.73 144.45,254.75 144.66,255.64C144.86,256.54 145.07,257.54 145.34,258.37C145.61,259.20 145.91,259.92 146.25,260.62C146.59,261.33 146.97,261.86 147.38,262.62C147.79,263.37 148.53,264.34 148.71,265.14C148.89,265.94 148.21,266.60 148.46,267.40C148.71,268.19 149.85,269.00 150.20,269.92C150.55,270.84 150.01,270.92 150.54,272.91C151.08,274.90 152.82,278.83 153.39,281.87C153.95,284.92 153.80,287.85 153.92,291.17C154.04,294.49 154.16,298.69 154.08,301.79C154.00,304.89 154.08,307.60 153.41,309.76C152.75,311.92 152.12,313.63 150.08,314.74C148.05,315.85 144.17,316.40 141.20,316.40C138.23,316.40 134.34,315.85 132.27,314.74C130.20,313.63 129.52,311.92 128.79,309.76C128.05,307.60 128.06,304.89 127.88,301.79C127.70,298.69 127.70,294.49 127.72,291.17C127.74,287.85 127.50,284.92 127.97,281.87C128.44,278.83 130.07,274.90 130.54,272.91C131.02,270.92 130.48,270.84 130.80,269.92C131.12,269.00 132.24,268.19 132.46,267.40C132.69,266.60 131.99,265.94 132.15,265.14C132.30,264.34 133.01,263.37 133.40,262.62C133.79,261.86 134.15,261.33 134.47,260.62C134.79,259.92 135.07,259.20 135.31,258.37C135.55,257.54 135.74,256.54 135.91,255.64C136.09,254.75 136.19,253.73 136.38,252.99C136.58,252.25 136.77,251.66 137.09,251.20C137.40,250.73 137.75,250.40 138.27,250.20C138.79,250.00 139.56,250.00 140.20,250.00Z"/></clipPath>
<clipPath id="bc10"><path d="M140.20,251.00C140.84,251.00 141.61,251.00 142.13,251.19C142.66,251.39 143.02,251.71 143.35,252.16C143.68,252.62 143.89,253.19 144.11,253.91C144.33,254.63 144.45,255.62 144.66,256.49C144.86,257.36 145.07,258.33 145.34,259.14C145.61,259.95 145.91,260.65 146.25,261.34C146.59,262.03 146.97,262.54 147.38,263.27C147.79,264.01 148.66,264.95 148.71,265.73C148.75,266.50 147.57,267.15 147.66,267.93C147.75,268.70 148.92,269.49 149.23,270.38C149.54,271.27 149.03,271.35 149.54,273.29C150.06,275.23 151.77,279.05 152.32,282.01C152.87,284.97 152.71,287.82 152.82,291.05C152.93,294.28 153.05,298.37 152.98,301.39C152.91,304.40 152.99,307.04 152.38,309.14C151.77,311.24 151.20,312.91 149.33,313.99C147.47,315.06 143.92,315.60 141.20,315.60C138.48,315.60 134.91,315.06 133.01,313.99C131.12,312.91 130.49,311.24 129.82,309.14C129.15,307.04 129.15,304.40 128.98,301.39C128.81,298.37 128.81,294.28 128.82,291.05C128.83,287.82 128.59,284.97 129.04,282.01C129.49,279.05 131.09,275.23 131.54,273.29C132.00,271.35 131.48,271.27 131.77,270.38C132.06,269.49 133.20,268.70 133.26,267.93C133.32,267.15 132.13,266.50 132.15,265.73C132.17,264.95 133.01,264.01 133.40,263.27C133.79,262.54 134.15,262.03 134.47,261.34C134.79,260.65 135.07,259.95 135.31,259.14C135.55,258.33 135.74,257.36 135.91,256.49C136.09,255.62 136.19,254.63 136.38,253.91C136.58,253.19 136.77,252.62 137.09,252.16C137.40,251.71 137.75,251.39 138.27,251.19C138.79,251.00 139.56,251.00 140.20,251.00Z"/></clipPath>
<radialGradient id="mg10" gradientUnits="userSpaceOnUse" cx="141.2" cy="289.3" r="34.3" gradientTransform="translate(141.2,0.0) scale(0.43,1) translate(-141.2,0.0)"><stop offset="0" stop-color="#ffffff"/><stop offset="0.70" stop-color="#f7f8f8"/><stop offset="0.88" stop-color="#dfe2e1"/><stop offset="1" stop-color="#a9b0ae"/></radialGradient>
<clipPath id="pc10"><rect x="126.0" y="241.2" width="32.0" height="108.1"/></clipPath>
<clipPath id="mc11"><path d="M178.00,253.90C178.64,253.90 179.41,253.90 179.93,254.08C180.46,254.27 180.81,254.57 181.14,255.00C181.46,255.42 181.67,255.96 181.88,256.64C182.09,257.32 182.21,258.25 182.40,259.08C182.60,259.90 182.81,260.81 183.06,261.57C183.32,262.33 183.62,262.99 183.95,263.64C184.29,264.29 184.66,264.78 185.07,265.47C185.47,266.16 186.04,267.05 186.37,267.79C186.70,268.52 186.63,269.12 187.06,269.86C187.50,270.59 188.61,271.33 188.98,272.17C189.36,273.01 188.86,273.08 189.34,274.91C189.82,276.74 191.37,280.34 191.87,283.13C192.37,285.92 192.26,288.61 192.35,291.66C192.44,294.70 192.53,298.56 192.41,301.40C192.29,304.24 192.35,306.73 191.61,308.71C190.88,310.69 190.18,312.26 187.98,313.28C185.78,314.29 181.60,314.80 178.40,314.80C175.20,314.80 171.02,314.29 168.80,313.28C166.59,312.26 165.87,310.69 165.11,308.71C164.34,306.73 164.37,304.24 164.21,301.40C164.05,298.56 164.10,294.70 164.15,291.66C164.20,288.61 164.05,285.92 164.52,283.13C164.98,280.34 166.48,276.74 166.94,274.91C167.39,273.08 166.89,273.01 167.26,272.17C167.62,271.33 168.72,270.59 169.14,269.86C169.57,269.12 169.49,268.52 169.81,267.79C170.13,267.05 170.69,266.16 171.08,265.47C171.48,264.78 171.85,264.29 172.18,263.64C172.50,262.99 172.79,262.33 173.04,261.57C173.28,260.81 173.48,259.90 173.66,259.08C173.85,258.25 173.95,257.32 174.15,256.64C174.36,255.96 174.56,255.42 174.88,255.00C175.20,254.57 175.55,254.27 176.07,254.08C176.59,253.90 177.36,253.90 178.00,253.90Z"/></clipPath>
<clipPath id="bc11"><path d="M178.00,254.90C178.64,254.90 179.41,254.90 179.93,255.08C180.46,255.25 180.81,255.55 181.14,255.96C181.46,256.38 181.67,256.90 181.88,257.56C182.09,258.22 182.21,259.13 182.40,259.92C182.60,260.72 182.81,261.61 183.06,262.35C183.32,263.09 183.62,263.73 183.95,264.36C184.29,264.99 184.66,265.46 185.07,266.13C185.47,266.80 186.17,267.67 186.37,268.37C186.57,269.08 185.99,269.68 186.26,270.38C186.54,271.09 187.67,271.81 188.01,272.63C188.36,273.45 187.87,273.52 188.34,275.29C188.80,277.06 190.32,280.56 190.80,283.27C191.29,285.98 191.16,288.59 191.25,291.54C191.33,294.50 191.42,298.24 191.31,301.00C191.20,303.76 191.26,306.17 190.58,308.09C189.90,310.01 189.26,311.54 187.23,312.52C185.20,313.51 181.35,314.00 178.40,314.00C175.45,314.00 171.59,313.51 169.55,312.52C167.51,311.54 166.85,310.01 166.14,308.09C165.43,306.17 165.46,303.76 165.31,301.00C165.16,298.24 165.20,294.50 165.25,291.54C165.29,288.59 165.13,285.98 165.58,283.27C166.03,280.56 167.50,277.06 167.94,275.29C168.38,273.52 167.89,273.45 168.23,272.63C168.56,271.81 169.68,271.09 169.94,270.38C170.21,269.68 169.62,269.08 169.81,268.37C170.00,267.67 170.69,266.80 171.08,266.13C171.48,265.46 171.85,264.99 172.18,264.36C172.50,263.73 172.79,263.09 173.04,262.35C173.28,261.61 173.48,260.72 173.66,259.92C173.85,259.13 173.95,258.22 174.15,257.56C174.36,256.90 174.56,256.38 174.88,255.96C175.20,255.55 175.55,255.25 176.07,255.08C176.59,254.90 177.36,254.90 178.00,254.90Z"/></clipPath>
<radialGradient id="mg11" gradientUnits="userSpaceOnUse" cx="178.4" cy="290.4" r="31.5" gradientTransform="translate(178.4,0.0) scale(0.43,1) translate(-178.4,0.0)"><stop offset="0" stop-color="#ffffff"/><stop offset="0.70" stop-color="#f7f8f8"/><stop offset="0.88" stop-color="#dfe2e1"/><stop offset="1" stop-color="#a9b0ae"/></radialGradient>
<clipPath id="pc11"><rect x="162.0" y="241.2" width="32.5" height="108.1"/></clipPath>
</defs>
<rect x="54.0" y="16.6" width="33.4" height="107.7" fill="#020202"/>
<rect x="90.0" y="16.6" width="32.2" height="107.7" fill="#020202"/>
<rect x="126.0" y="16.6" width="32.0" height="107.7" fill="#020202"/>
<rect x="162.0" y="16.6" width="32.5" height="107.7" fill="#020202"/>
<rect x="54.0" y="128.0" width="33.4" height="108.2" fill="#020202"/>
<rect x="90.0" y="128.0" width="32.2" height="108.2" fill="#020202"/>
<rect x="126.0" y="128.0" width="32.0" height="108.2" fill="#020202"/>
<rect x="162.0" y="128.0" width="32.5" height="108.2" fill="#020202"/>
<rect x="54.0" y="241.2" width="33.4" height="108.1" fill="#020202"/>
<rect x="90.0" y="241.2" width="32.2" height="108.1" fill="#020202"/>
<rect x="126.0" y="241.2" width="32.0" height="108.1" fill="#020202"/>
<rect x="162.0" y="241.2" width="32.5" height="108.1" fill="#020202"/>
<g clip-path="url(#pc0)">
<g filter="url(#fz)">
<path d="M70.80,91.00C70.72,92.17 70.50,95.50 70.30,98.00C70.10,100.50 69.58,103.33 69.60,106.00C69.62,108.67 70.07,110.95 70.40,114.00C70.73,117.05 71.40,122.58 71.60,124.30" fill="none" stroke="#d3d9d7" stroke-width="1.7" stroke-linecap="round"/>
<path d="M87.00,103.00C86.42,103.83 84.47,106.00 83.50,108.00C82.53,110.00 81.68,112.28 81.20,115.00C80.72,117.72 80.70,122.75 80.60,124.30" fill="none" stroke="#d3d9d7" stroke-width="1.7" stroke-linecap="round"/>
<ellipse cx="63.5" cy="91.3" rx="3.6" ry="1.3" transform="rotate(-10 63.5 91.3)" fill="#d4d9d7"/>
<ellipse cx="81.8" cy="91.0" rx="3.2" ry="1.3" transform="rotate(15 81.8 91.0)" fill="#d4d9d7"/>
<ellipse cx="58.0" cy="92.5" rx="2.5" ry="0.9" transform="rotate(0 58.0 92.5)" fill="#d4d9d7"/>
<path d="M69.70,25.20C70.34,25.20 71.11,25.20 71.63,25.40C72.16,25.60 72.51,25.93 72.84,26.40C73.16,26.86 73.38,27.45 73.59,28.20C73.80,28.94 73.92,29.96 74.12,30.86C74.32,31.76 74.53,32.76 74.79,33.59C75.05,34.42 75.35,35.15 75.68,35.86C76.02,36.57 76.40,37.10 76.81,37.85C77.21,38.61 77.67,39.59 78.12,40.38C78.56,41.18 78.89,41.85 79.46,42.65C80.02,43.45 81.11,44.26 81.52,45.18C81.93,46.10 81.74,46.18 81.91,48.18C82.07,50.17 82.32,54.12 82.50,57.17C82.68,60.22 82.88,63.16 82.97,66.49C83.07,69.82 83.17,74.04 83.07,77.15C82.97,80.26 83.03,82.98 82.37,85.14C81.70,87.30 81.07,89.02 79.06,90.13C77.05,91.24 73.22,91.80 70.30,91.80C67.38,91.80 63.54,91.24 61.51,90.13C59.48,89.02 58.82,87.30 58.11,85.14C57.41,82.98 57.42,80.26 57.27,77.15C57.11,74.04 57.14,69.82 57.17,66.49C57.21,63.16 57.35,60.22 57.48,57.17C57.60,54.12 57.78,50.17 57.91,48.18C58.03,46.18 57.85,46.10 58.24,45.18C58.63,44.26 59.70,43.45 60.26,42.65C60.81,41.85 61.13,41.18 61.56,40.38C61.98,39.59 62.43,38.61 62.82,37.85C63.21,37.10 63.58,36.57 63.91,35.86C64.23,35.15 64.52,34.42 64.76,33.59C65.01,32.76 65.20,31.76 65.38,30.86C65.56,29.96 65.66,28.94 65.86,28.20C66.06,27.45 66.26,26.86 66.58,26.40C66.90,25.93 67.25,25.60 67.77,25.40C68.29,25.20 69.06,25.20 69.70,25.20Z" fill="url(#mg0)" filter="url(#fur)"/>
<ellipse cx="69.7" cy="30.5" rx="7.5" ry="11.3" fill="url(#hg)" clip-path="url(#bc0)"/>
<ellipse cx="69.7" cy="27.5" rx="2.3" ry="1.3" fill="#6f8580" opacity="0.8"/>
<ellipse cx="69.7" cy="31.9" rx="1.6" ry="2.0" fill="#cfdad7" opacity="0.7"/>
<path d="M68.7,45.2 q-1.5,4 -5.2,7.4 M71.1,45.2 q1.5,4 5.2,7.4 M64.4,44.2 q-2.5,-3.5 -0.8,-7 M75.4,44.2 q2.5,-3.5 0.8,-7" fill="none" stroke="#a4adab" stroke-width="0.9" opacity="0.8"/>
</g>
<g filter="url(#fz2)" clip-path="url(#mc0)">
<path d="M57.00,67.00C57.53,65.90 58.50,65.70 60.00,65.40C61.50,65.10 64.00,65.17 66.00,65.20C68.00,65.23 70.00,65.60 72.00,65.60C74.00,65.60 76.07,65.07 78.00,65.20C79.93,65.33 82.50,65.60 83.60,66.40C84.70,67.20 84.50,68.57 84.60,70.00C84.70,71.43 84.67,73.42 84.20,75.00C83.73,76.58 82.77,78.17 81.80,79.50C80.83,80.83 79.70,81.98 78.40,83.00C77.10,84.02 75.48,85.10 74.00,85.60C72.52,86.10 71.00,86.33 69.50,86.00C68.00,85.67 66.35,84.60 65.00,83.60C63.65,82.60 62.50,81.18 61.40,80.00C60.30,78.82 59.17,77.83 58.40,76.50C57.63,75.17 57.03,73.58 56.80,72.00C56.57,70.42 56.47,68.10 57.00,67.00Z" fill="#5a36ec"/>
<ellipse cx="67.3" cy="72.8" rx="0.9" ry="1.2" fill="#ffe0ff"/>
</g>
</g>
<g clip-path="url(#pc1)">
<g filter="url(#fz)">
<path d="M105.00,92.50C105.08,93.58 105.00,96.75 105.50,99.00C106.00,101.25 106.58,103.67 108.00,106.00C109.42,108.33 111.63,110.57 114.00,113.00C116.37,115.43 120.83,119.33 122.20,120.60" fill="none" stroke="#d3d9d7" stroke-width="1.7" stroke-linecap="round"/>
<path d="M95.50,52.00C94.92,52.25 92.88,53.33 92.00,53.50C91.12,53.67 90.50,53.08 90.20,53.00" fill="none" stroke="#dfe3e2" stroke-width="2.3" stroke-linecap="round"/>
<ellipse cx="92.5" cy="89.8" rx="2.6" ry="1.0" transform="rotate(10 92.5 89.8)" fill="#d4d9d7"/>
<ellipse cx="106.5" cy="94.5" rx="2.2" ry="1.6" transform="rotate(0 106.5 94.5)" fill="#d4d9d7"/>
<path d="M104.60,26.00C105.24,26.00 106.01,26.00 106.54,26.20C107.07,26.40 107.43,26.74 107.77,27.21C108.11,27.68 108.33,28.27 108.56,29.02C108.79,29.76 108.94,30.79 109.16,31.70C109.38,32.60 109.61,33.60 109.89,34.44C110.17,35.28 110.49,36.01 110.84,36.72C111.19,37.43 111.59,37.97 112.01,38.73C112.43,39.49 112.97,40.47 113.38,41.28C113.79,42.08 113.93,42.75 114.46,43.55C114.98,44.36 116.09,45.17 116.51,46.10C116.93,47.03 116.62,47.10 116.96,49.11C117.30,51.12 118.17,55.09 118.56,58.16C118.94,61.23 119.09,64.19 119.26,67.54C119.44,70.89 119.65,75.13 119.62,78.26C119.59,81.39 119.72,84.12 119.08,86.30C118.44,88.48 117.84,90.21 115.79,91.33C113.74,92.44 109.81,93.00 106.80,93.00C103.79,93.00 99.82,92.44 97.70,91.33C95.58,90.21 94.86,88.48 94.08,86.30C93.30,84.12 93.25,81.39 93.02,78.26C92.78,75.13 92.71,70.89 92.66,67.54C92.62,64.19 92.57,61.23 92.75,58.16C92.94,55.09 93.55,51.12 93.76,49.11C93.97,47.10 93.65,47.03 94.01,46.10C94.36,45.17 95.43,44.36 95.90,43.55C96.37,42.75 96.47,42.08 96.82,41.28C97.18,40.47 97.65,39.49 98.03,38.73C98.40,37.97 98.76,37.43 99.06,36.72C99.37,36.01 99.64,35.28 99.86,34.44C100.09,33.60 100.26,32.60 100.42,31.70C100.58,30.79 100.65,29.76 100.83,29.02C101.02,28.27 101.20,27.68 101.51,27.21C101.82,26.74 102.16,26.40 102.67,26.20C103.19,26.00 103.96,26.00 104.60,26.00Z" fill="url(#mg1)" filter="url(#fur)"/>
<ellipse cx="104.6" cy="31.4" rx="7.5" ry="11.4" fill="url(#hg)" clip-path="url(#bc1)"/>
<ellipse cx="104.6" cy="28.3" rx="2.3" ry="1.3" fill="#6f8580" opacity="0.8"/>
<ellipse cx="104.6" cy="32.7" rx="1.6" ry="2.0" fill="#cfdad7" opacity="0.7"/>
<path d="M104.2,46.1 q-1.5,4 -5.2,7.4 M106.6,46.1 q1.5,4 5.2,7.4 M99.9,45.1 q-2.5,-3.5 -0.8,-7 M110.9,45.1 q2.5,-3.5 0.8,-7" fill="none" stroke="#a4adab" stroke-width="0.9" opacity="0.8"/>
</g>
<g filter="url(#fz2)" clip-path="url(#mc1)">
<path d="M93.50,64.10C93.92,62.38 94.22,61.50 95.40,60.70C96.58,59.90 98.78,59.40 100.60,59.30C102.42,59.20 104.30,60.02 106.30,60.10C108.30,60.18 110.67,59.60 112.60,59.80C114.53,60.00 116.67,60.20 117.90,61.30C119.13,62.40 119.72,64.60 120.00,66.40C120.28,68.20 120.05,70.18 119.60,72.10C119.15,74.02 118.25,76.08 117.30,77.90C116.35,79.72 115.17,81.48 113.90,83.00C112.63,84.52 111.17,85.95 109.70,87.00C108.23,88.05 106.62,89.20 105.10,89.30C103.58,89.40 102.05,88.55 100.60,87.60C99.15,86.65 97.55,85.22 96.40,83.60C95.25,81.98 94.28,80.00 93.70,77.90C93.12,75.80 92.93,73.30 92.90,71.00C92.87,68.70 93.08,65.82 93.50,64.10Z" fill="#5a36ec"/>
<path d="M116.95,74.00C117.03,75.53 117.06,77.40 116.62,78.71C116.18,80.02 115.23,80.95 114.31,81.87C113.40,82.78 112.47,83.69 111.13,84.21C109.80,84.72 107.86,85.07 106.30,84.96C104.74,84.85 103.05,84.13 101.78,83.56C100.50,82.98 99.66,82.30 98.64,81.52C97.61,80.74 96.12,80.13 95.62,78.87C95.11,77.62 95.49,75.57 95.62,74.00C95.74,72.43 96.02,70.88 96.36,69.46C96.70,68.05 96.81,66.45 97.68,65.53C98.54,64.62 100.11,64.42 101.55,63.95C102.98,63.49 104.71,62.77 106.30,62.76C107.89,62.76 109.68,63.43 111.06,63.95C112.44,64.47 113.73,64.95 114.57,65.88C115.42,66.80 115.74,68.16 116.14,69.51C116.53,70.87 116.87,72.47 116.95,74.00Z" fill="#2f4cff"/>
<path d="M103.79,73.33C103.63,73.77 103.47,74.14 103.26,74.52C103.05,74.91 102.86,75.39 102.55,75.64C102.24,75.89 101.77,75.98 101.39,76.05C101.00,76.11 100.62,76.08 100.23,76.04C99.84,76.00 99.44,75.96 99.05,75.80C98.66,75.64 98.17,75.44 97.91,75.09C97.64,74.74 97.53,74.17 97.46,73.69C97.39,73.21 97.35,72.66 97.48,72.21C97.62,71.77 98.02,71.42 98.28,71.03C98.53,70.64 98.68,70.14 99.00,69.88C99.32,69.62 99.80,69.53 100.20,69.47C100.60,69.40 101.01,69.40 101.38,69.49C101.76,69.57 102.12,69.76 102.44,69.98C102.77,70.20 103.02,70.49 103.32,70.81C103.61,71.12 104.14,71.46 104.22,71.88C104.30,72.30 103.95,72.89 103.79,73.33Z" fill="#30d8f0"/>
<path d="M111.51,76.60C111.53,77.13 111.46,77.71 111.26,78.20C111.06,78.70 110.70,79.19 110.29,79.60C109.89,80.00 109.38,80.42 108.83,80.62C108.28,80.82 107.61,80.79 107.00,80.79C106.39,80.79 105.64,80.88 105.17,80.61C104.70,80.34 104.55,79.58 104.18,79.16C103.81,78.75 103.29,78.55 102.96,78.12C102.63,77.69 102.23,77.12 102.21,76.60C102.19,76.08 102.58,75.53 102.81,75.02C103.05,74.51 103.20,73.85 103.64,73.54C104.08,73.24 104.89,73.34 105.45,73.19C106.01,73.04 106.47,72.64 107.00,72.62C107.53,72.61 108.08,72.90 108.60,73.09C109.12,73.28 109.72,73.42 110.14,73.75C110.56,74.07 110.90,74.57 111.13,75.05C111.35,75.52 111.49,76.07 111.51,76.60Z" fill="#30d8f0"/>
<path d="M108.14,80.60C108.19,80.97 108.56,81.46 108.42,81.77C108.28,82.07 107.63,82.18 107.30,82.44C106.98,82.70 106.83,83.12 106.48,83.31C106.13,83.50 105.63,83.59 105.20,83.59C104.77,83.59 104.28,83.50 103.91,83.31C103.55,83.13 103.29,82.78 103.03,82.50C102.76,82.22 102.53,81.96 102.33,81.64C102.14,81.32 101.92,80.97 101.86,80.60C101.80,80.23 101.80,79.77 101.97,79.43C102.14,79.09 102.53,78.80 102.86,78.56C103.20,78.32 103.58,78.11 103.97,77.99C104.35,77.88 104.79,77.85 105.20,77.86C105.61,77.87 106.01,77.95 106.40,78.06C106.80,78.17 107.28,78.29 107.56,78.53C107.85,78.78 108.02,79.20 108.11,79.54C108.21,79.89 108.09,80.23 108.14,80.60Z" fill="#30d8f0"/>
<ellipse cx="103.6" cy="70.0" rx="1.8" ry="1.4" fill="#30d8f0"/>
<ellipse cx="97.3" cy="76.8" rx="1.2" ry="1.6" fill="#30d8f0"/>
<ellipse cx="100.6" cy="72.0" rx="2.2" ry="2.0" fill="#35e030"/>
<ellipse cx="107.0" cy="76.0" rx="3.1" ry="2.7" fill="#35e030"/>
<ellipse cx="107.2" cy="75.9" rx="1.7" ry="1.3" fill="#f0f020"/>
<ellipse cx="100.5" cy="71.9" rx="0.9" ry="0.8" fill="#f0f020"/>
<ellipse cx="107.4" cy="75.9" rx="0.8" ry="0.6" fill="#f01818"/>
</g>
</g>
<g clip-path="url(#pc2)">
<g filter="url(#fz)">
<path d="M134.80,90.00C134.73,91.17 134.20,94.50 134.40,97.00C134.60,99.50 135.07,102.17 136.00,105.00C136.93,107.83 138.53,110.78 140.00,114.00C141.47,117.22 144.00,122.58 144.80,124.30" fill="none" stroke="#d3d9d7" stroke-width="1.7" stroke-linecap="round"/>
<ellipse cx="128.2" cy="92.5" rx="1.3" ry="3.6" transform="rotate(25 128.2 92.5)" fill="#d4d9d7"/>
<ellipse cx="146.2" cy="91.0" rx="1.6" ry="1.4" transform="rotate(0 146.2 91.0)" fill="#d4d9d7"/>
<path d="M142.30,25.20C142.94,25.20 143.71,25.20 144.23,25.40C144.74,25.59 145.09,25.92 145.40,26.38C145.71,26.83 145.90,27.41 146.09,28.14C146.28,28.87 146.36,29.87 146.53,30.75C146.69,31.63 146.87,32.61 147.10,33.43C147.33,34.24 147.60,34.95 147.92,35.65C148.23,36.34 148.59,36.87 148.97,37.61C149.35,38.35 149.86,39.30 150.19,40.09C150.53,40.87 150.53,41.52 150.97,42.31C151.42,43.09 152.49,43.89 152.85,44.79C153.20,45.69 152.74,45.77 153.11,47.73C153.48,49.69 154.71,53.55 155.06,56.54C155.42,59.54 155.26,62.42 155.25,65.69C155.23,68.95 155.19,73.09 154.97,76.13C154.75,79.18 154.73,81.85 153.93,83.97C153.13,86.09 152.38,87.78 150.16,88.87C147.94,89.96 143.77,90.50 140.60,90.50C137.43,90.50 133.29,89.96 131.12,88.87C128.96,87.78 128.30,86.09 127.61,83.97C126.92,81.85 127.03,79.18 126.97,76.13C126.91,73.09 127.09,68.95 127.25,65.69C127.40,62.42 127.39,59.54 127.90,56.54C128.42,53.55 129.84,49.69 130.31,47.73C130.78,45.77 130.33,45.69 130.73,44.79C131.14,43.89 132.25,43.09 132.73,42.31C133.22,41.52 133.26,40.87 133.63,40.09C134.01,39.30 134.57,38.35 134.99,37.61C135.40,36.87 135.79,36.34 136.14,35.65C136.49,34.95 136.80,34.24 137.07,33.43C137.35,32.61 137.57,31.63 137.79,30.75C138.00,29.87 138.13,28.87 138.36,28.14C138.59,27.41 138.81,26.83 139.14,26.38C139.48,25.92 139.84,25.59 140.36,25.40C140.89,25.20 141.66,25.20 142.30,25.20Z" fill="url(#mg2)" filter="url(#fur)"/>
<ellipse cx="142.3" cy="30.4" rx="7.5" ry="11.1" fill="url(#hg)" clip-path="url(#bc2)"/>
<ellipse cx="142.3" cy="27.5" rx="2.3" ry="1.3" fill="#6f8580" opacity="0.8"/>
<ellipse cx="142.3" cy="31.7" rx="1.6" ry="2.0" fill="#cfdad7" opacity="0.7"/>
<path d="M140.5,44.7 q-1.5,4 -5.2,7.4 M142.9,44.7 q1.5,4 5.2,7.4 M136.2,43.7 q-2.5,-3.5 -0.8,-7 M147.2,43.7 q2.5,-3.5 0.8,-7" fill="none" stroke="#a4adab" stroke-width="0.9" opacity="0.8"/>
</g>
<g filter="url(#fz2)" clip-path="url(#mc2)">
<path d="M126.00,60.00C126.57,58.47 127.67,57.53 129.00,56.80C130.33,56.07 132.33,55.53 134.00,55.60C135.67,55.67 137.50,57.17 139.00,57.20C140.50,57.23 141.58,56.13 143.00,55.80C144.42,55.47 146.13,55.07 147.50,55.20C148.87,55.33 150.05,55.80 151.20,56.60C152.35,57.40 153.73,58.43 154.40,60.00C155.07,61.57 155.10,63.83 155.20,66.00C155.30,68.17 155.27,70.83 155.00,73.00C154.73,75.17 154.33,77.27 153.60,79.00C152.87,80.73 151.62,82.17 150.60,83.40C149.58,84.63 148.50,85.53 147.50,86.40C146.50,87.27 145.65,88.07 144.60,88.60C143.55,89.13 142.38,89.70 141.20,89.60C140.02,89.50 138.70,88.77 137.50,88.00C136.30,87.23 135.17,85.93 134.00,85.00C132.83,84.07 131.62,83.40 130.50,82.40C129.38,81.40 128.05,80.57 127.30,79.00C126.55,77.43 126.28,75.17 126.00,73.00C125.72,70.83 125.60,68.17 125.60,66.00C125.60,63.83 125.43,61.53 126.00,60.00Z" fill="#5a36ec"/>
<path d="M153.12,70.00C153.11,71.54 152.65,73.29 152.19,74.60C151.72,75.90 151.32,77.05 150.34,77.82C149.36,78.60 147.91,78.85 146.29,79.25C144.66,79.65 142.52,80.19 140.60,80.23C138.68,80.27 136.32,79.93 134.77,79.47C133.23,79.01 132.33,78.25 131.32,77.46C130.30,76.67 129.16,75.98 128.67,74.73C128.18,73.49 128.36,71.57 128.37,70.00C128.38,68.43 128.25,66.54 128.74,65.29C129.23,64.05 130.28,63.30 131.31,62.54C132.33,61.78 133.35,61.19 134.90,60.74C136.45,60.29 138.64,59.96 140.60,59.86C142.56,59.77 145.09,59.74 146.64,60.18C148.20,60.62 149.00,61.64 149.94,62.50C150.87,63.37 151.73,64.13 152.26,65.37C152.79,66.62 153.13,68.46 153.12,70.00Z" fill="#2f4cff"/>
<path d="M151.57,68.95C151.85,70.18 152.57,71.78 152.18,72.84C151.80,73.90 150.19,74.48 149.25,75.30C148.30,76.12 147.80,77.26 146.50,77.75C145.20,78.24 143.10,78.13 141.45,78.23C139.81,78.33 138.15,78.42 136.64,78.34C135.14,78.26 133.40,78.34 132.41,77.74C131.43,77.14 131.32,75.83 130.76,74.75C130.20,73.68 129.25,72.52 129.07,71.31C128.89,70.11 129.26,68.62 129.68,67.52C130.10,66.41 130.74,65.50 131.60,64.68C132.46,63.87 133.49,63.11 134.85,62.64C136.20,62.17 138.07,62.09 139.73,61.86C141.40,61.63 143.47,61.03 144.84,61.26C146.21,61.49 147.00,62.55 147.94,63.25C148.88,63.94 149.86,64.48 150.47,65.43C151.07,66.38 151.28,67.71 151.57,68.95Z" fill="#30d8f0"/>
<path d="M150.74,68.58C150.93,69.55 150.72,70.78 150.32,71.69C149.92,72.60 149.02,73.24 148.32,74.05C147.62,74.87 147.25,76.14 146.12,76.59C145.00,77.03 143.02,76.61 141.55,76.75C140.08,76.89 138.64,77.41 137.30,77.42C135.95,77.43 134.34,77.35 133.48,76.80C132.62,76.25 132.67,74.99 132.15,74.10C131.62,73.21 130.59,72.42 130.31,71.45C130.04,70.47 130.04,69.15 130.49,68.24C130.94,67.34 132.18,66.74 133.01,66.01C133.84,65.29 134.39,64.50 135.48,63.90C136.57,63.30 138.14,62.64 139.54,62.43C140.94,62.22 142.54,62.48 143.88,62.64C145.21,62.80 146.65,62.84 147.53,63.38C148.41,63.91 148.63,64.98 149.16,65.85C149.70,66.71 150.55,67.60 150.74,68.58Z" fill="#35e030"/>
<path d="M150.08,69.00C150.05,69.64 149.79,70.29 149.53,70.89C149.27,71.48 148.99,72.18 148.51,72.59C148.02,73.00 147.24,73.06 146.61,73.35C145.97,73.63 145.38,74.22 144.70,74.31C144.02,74.41 143.18,74.20 142.54,73.92C141.90,73.64 141.24,73.17 140.84,72.64C140.44,72.12 140.38,71.39 140.14,70.78C139.89,70.18 139.41,69.61 139.38,69.00C139.35,68.39 139.68,67.71 139.97,67.15C140.27,66.59 140.72,66.17 141.14,65.64C141.56,65.11 141.89,64.32 142.49,63.96C143.08,63.61 144.02,63.36 144.70,63.50C145.38,63.64 145.87,64.52 146.54,64.80C147.21,65.09 148.19,64.84 148.72,65.21C149.24,65.58 149.47,66.42 149.70,67.05C149.92,67.68 150.10,68.36 150.08,69.00Z" fill="#f0f020"/>
<path d="M143.38,70.08C143.39,70.27 143.06,70.50 142.84,70.70C142.61,70.90 142.44,71.13 142.04,71.30C141.64,71.46 140.98,71.58 140.43,71.70C139.88,71.81 139.30,71.94 138.73,71.99C138.16,72.04 137.55,72.02 137.00,72.00C136.46,71.97 135.84,71.95 135.44,71.85C135.04,71.75 134.82,71.56 134.59,71.40C134.36,71.24 134.09,71.08 134.06,70.90C134.02,70.71 134.17,70.49 134.40,70.30C134.62,70.11 135.04,69.94 135.42,69.76C135.80,69.58 136.16,69.37 136.67,69.23C137.17,69.10 137.88,68.98 138.46,68.94C139.05,68.91 139.62,68.99 140.18,69.02C140.73,69.05 141.35,69.05 141.79,69.14C142.23,69.23 142.53,69.40 142.80,69.56C143.06,69.71 143.37,69.89 143.38,70.08Z" fill="#f0f020"/>
<path d="M149.55,69.00C149.63,69.51 149.47,70.08 149.32,70.63C149.16,71.18 149.02,71.90 148.61,72.27C148.19,72.64 147.39,72.69 146.81,72.85C146.22,73.00 145.68,73.19 145.10,73.21C144.52,73.23 143.83,73.21 143.34,72.96C142.85,72.72 142.56,72.14 142.16,71.75C141.76,71.35 141.21,71.07 140.93,70.61C140.65,70.15 140.51,69.56 140.46,69.00C140.41,68.44 140.36,67.73 140.65,67.28C140.94,66.83 141.76,66.65 142.23,66.32C142.70,65.99 142.98,65.49 143.46,65.30C143.94,65.12 144.52,65.29 145.10,65.21C145.68,65.13 146.40,64.72 146.95,64.83C147.51,64.94 148.12,65.44 148.43,65.89C148.74,66.35 148.61,67.05 148.80,67.57C148.99,68.09 149.46,68.49 149.55,69.00Z" fill="#f01818"/>
<path d="M143.01,70.15C142.99,70.24 142.69,70.35 142.51,70.45C142.33,70.56 142.24,70.67 141.91,70.76C141.59,70.86 141.02,70.94 140.54,71.01C140.07,71.08 139.56,71.15 139.06,71.19C138.56,71.24 138.00,71.28 137.55,71.28C137.11,71.29 136.72,71.25 136.39,71.21C136.05,71.17 135.75,71.13 135.54,71.06C135.34,71.00 135.15,70.92 135.15,70.84C135.14,70.75 135.32,70.64 135.48,70.55C135.65,70.45 135.83,70.34 136.16,70.24C136.49,70.15 137.01,70.06 137.47,69.99C137.93,69.92 138.45,69.85 138.94,69.81C139.43,69.77 139.95,69.75 140.40,69.74C140.85,69.74 141.25,69.76 141.63,69.79C142.00,69.81 142.41,69.85 142.64,69.91C142.87,69.97 143.03,70.06 143.01,70.15Z" fill="#f01818"/>
</g>
</g>
<g clip-path="url(#pc3)">
<g filter="url(#fz)">
<path d="M181.00,96.50C181.33,97.75 182.33,101.42 183.00,104.00C183.67,106.58 184.53,109.67 185.00,112.00C185.47,114.33 185.73,115.95 185.80,118.00C185.87,120.05 185.47,123.25 185.40,124.30" fill="none" stroke="#d3d9d7" stroke-width="1.7" stroke-linecap="round"/>
<ellipse cx="171.8" cy="99.0" rx="1.3" ry="3.4" transform="rotate(-5 171.8 99.0)" fill="#d4d9d7"/>
<ellipse cx="190.5" cy="97.5" rx="3.0" ry="1.2" transform="rotate(30 190.5 97.5)" fill="#d4d9d7"/>
<path d="M177.80,29.90C178.44,29.90 179.21,29.90 179.73,30.10C180.25,30.30 180.60,30.63 180.92,31.10C181.24,31.56 181.44,32.15 181.65,32.90C181.85,33.64 181.95,34.66 182.14,35.56C182.32,36.46 182.52,37.46 182.76,38.29C183.01,39.12 183.30,39.85 183.62,40.56C183.95,41.27 184.32,41.80 184.72,42.55C185.11,43.31 185.67,44.29 185.99,45.08C186.31,45.88 186.23,46.55 186.66,47.35C187.08,48.15 188.18,48.96 188.54,49.88C188.91,50.80 188.29,50.88 188.86,52.88C189.43,54.87 191.38,58.82 191.96,61.87C192.55,64.92 192.30,67.86 192.35,71.19C192.41,74.52 192.45,78.74 192.29,81.85C192.12,84.96 192.15,87.68 191.35,89.84C190.55,92.00 189.80,93.72 187.47,94.83C185.15,95.94 180.75,96.50 177.40,96.50C174.05,96.50 169.66,95.94 167.35,94.83C165.03,93.72 164.30,92.00 163.53,89.84C162.75,87.68 162.82,84.96 162.69,81.85C162.56,78.74 162.66,74.52 162.75,71.19C162.85,67.86 162.63,64.92 163.25,61.87C163.87,58.82 165.87,54.87 166.46,52.88C167.06,50.88 166.44,50.80 166.82,49.88C167.19,48.96 168.30,48.15 168.74,47.35C169.17,46.55 169.10,45.88 169.43,45.08C169.76,44.29 170.33,43.31 170.73,42.55C171.14,41.80 171.51,41.27 171.85,40.56C172.18,39.85 172.48,39.12 172.74,38.29C172.99,37.46 173.20,36.46 173.40,35.56C173.59,34.66 173.71,33.64 173.92,32.90C174.13,32.15 174.34,31.56 174.66,31.10C174.99,30.63 175.34,30.30 175.87,30.10C176.39,29.90 177.16,29.90 177.80,29.90Z" fill="url(#mg3)" filter="url(#fur)"/>
<ellipse cx="177.8" cy="35.2" rx="7.5" ry="11.3" fill="url(#hg)" clip-path="url(#bc3)"/>
<ellipse cx="177.8" cy="32.2" rx="2.3" ry="1.3" fill="#6f8580" opacity="0.8"/>
<ellipse cx="177.8" cy="36.6" rx="1.6" ry="2.0" fill="#cfdad7" opacity="0.7"/>
<path d="M176.5,49.9 q-1.5,4 -5.2,7.4 M178.9,49.9 q1.5,4 5.2,7.4 M172.2,48.9 q-2.5,-3.5 -0.8,-7 M183.2,48.9 q2.5,-3.5 0.8,-7" fill="none" stroke="#a4adab" stroke-width="0.9" opacity="0.8"/>
</g>
<g filter="url(#fz2)" clip-path="url(#mc3)">
<path d="M162.00,62.00C162.48,60.33 163.33,58.97 164.50,58.00C165.67,57.03 167.25,56.28 169.00,56.20C170.75,56.12 173.17,57.53 175.00,57.50C176.83,57.47 178.17,56.18 180.00,56.00C181.83,55.82 184.25,56.07 186.00,56.40C187.75,56.73 189.33,57.07 190.50,58.00C191.67,58.93 192.48,60.00 193.00,62.00C193.52,64.00 193.53,67.33 193.60,70.00C193.67,72.67 193.63,75.67 193.40,78.00C193.17,80.33 192.85,82.25 192.20,84.00C191.55,85.75 190.53,87.17 189.50,88.50C188.47,89.83 187.25,90.98 186.00,92.00C184.75,93.02 183.33,94.00 182.00,94.60C180.67,95.20 179.33,95.60 178.00,95.60C176.67,95.60 175.25,95.20 174.00,94.60C172.75,94.00 171.70,93.10 170.50,92.00C169.30,90.90 167.95,89.50 166.80,88.00C165.65,86.50 164.40,85.00 163.60,83.00C162.80,81.00 162.33,78.50 162.00,76.00C161.67,73.50 161.60,70.33 161.60,68.00C161.60,65.67 161.52,63.67 162.00,62.00Z" fill="#5a36ec"/>
<path d="M192.08,74.60C192.10,76.53 192.12,78.90 191.64,80.40C191.15,81.90 190.26,82.73 189.16,83.60C188.06,84.46 187.02,85.23 185.06,85.60C183.10,85.96 179.91,85.85 177.40,85.79C174.89,85.72 171.92,85.61 170.02,85.20C168.12,84.79 167.09,84.14 166.01,83.31C164.94,82.49 164.17,81.70 163.55,80.25C162.93,78.79 162.28,76.48 162.29,74.60C162.30,72.72 163.06,70.47 163.63,68.99C164.21,67.50 164.68,66.51 165.75,65.68C166.81,64.85 168.08,64.40 170.03,64.01C171.97,63.62 174.93,63.36 177.40,63.34C179.87,63.32 182.89,63.51 184.87,63.87C186.85,64.23 188.15,64.69 189.27,65.52C190.38,66.34 191.10,67.31 191.57,68.82C192.04,70.34 192.07,72.67 192.08,74.60Z" fill="#2f4cff"/>
<path d="M191.25,76.00C191.31,77.38 191.52,79.06 191.04,80.19C190.56,81.33 189.50,82.08 188.37,82.83C187.24,83.57 186.09,84.33 184.27,84.65C182.44,84.97 179.63,84.81 177.40,84.74C175.17,84.66 172.74,84.50 170.90,84.19C169.06,83.88 167.54,83.54 166.36,82.87C165.18,82.20 164.31,81.32 163.81,80.18C163.30,79.03 163.33,77.39 163.33,76.00C163.32,74.61 163.23,72.93 163.78,71.81C164.33,70.70 165.51,70.04 166.65,69.31C167.79,68.59 168.83,67.78 170.62,67.46C172.41,67.14 175.19,67.31 177.40,67.37C179.61,67.43 182.02,67.55 183.88,67.83C185.75,68.11 187.45,68.36 188.59,69.04C189.72,69.72 190.23,70.76 190.67,71.92C191.11,73.08 191.19,74.62 191.25,76.00Z" fill="#30d8f0"/>
<path d="M192.10,76.00C192.03,77.11 190.11,78.26 189.44,79.26C188.77,80.27 189.10,81.42 188.08,82.04C187.06,82.65 185.08,82.57 183.30,82.95C181.52,83.33 179.35,84.36 177.40,84.33C175.45,84.31 173.44,83.17 171.62,82.81C169.81,82.45 167.76,82.69 166.51,82.15C165.27,81.62 164.75,80.62 164.15,79.59C163.55,78.57 163.01,77.22 162.91,76.00C162.81,74.78 162.82,73.19 163.58,72.25C164.33,71.31 166.14,70.93 167.44,70.37C168.73,69.80 169.68,69.26 171.34,68.86C173.00,68.46 175.39,67.96 177.40,67.97C179.41,67.98 181.74,68.53 183.41,68.92C185.07,69.32 186.33,69.73 187.40,70.35C188.47,70.97 189.04,71.69 189.83,72.63C190.61,73.57 192.16,74.89 192.10,76.00Z" fill="#35e030"/>
<path d="M179.31,79.40C179.26,79.88 179.29,80.36 179.13,80.77C178.97,81.19 178.67,81.58 178.36,81.90C178.06,82.22 177.68,82.52 177.29,82.69C176.89,82.86 176.44,82.91 176.00,82.93C175.56,82.96 175.04,83.02 174.66,82.83C174.28,82.65 174.03,82.16 173.71,81.82C173.40,81.49 172.90,81.22 172.77,80.81C172.64,80.41 172.90,79.86 172.93,79.40C172.97,78.94 172.86,78.49 172.98,78.08C173.11,77.67 173.37,77.23 173.68,76.94C173.98,76.64 174.40,76.53 174.79,76.31C175.18,76.09 175.59,75.64 176.00,75.62C176.41,75.61 176.83,76.02 177.25,76.20C177.68,76.38 178.18,76.42 178.54,76.71C178.91,76.99 179.30,77.45 179.43,77.90C179.55,78.35 179.36,78.92 179.31,79.40Z" fill="#30d8f0"/>
<ellipse cx="168.6" cy="75.6" rx="2.8" ry="2.6" fill="#f0f020"/>
<path d="M192.26,75.04C192.10,76.11 191.93,77.29 191.58,78.20C191.24,79.12 190.77,80.01 190.21,80.53C189.64,81.06 188.91,81.14 188.19,81.37C187.48,81.60 186.67,81.98 185.93,81.92C185.19,81.87 184.37,81.48 183.77,81.04C183.17,80.59 182.65,80.00 182.33,79.26C182.02,78.52 181.94,77.56 181.89,76.62C181.83,75.68 181.88,74.61 182.00,73.60C182.12,72.59 182.29,71.46 182.60,70.56C182.91,69.66 183.32,68.74 183.86,68.20C184.39,67.65 185.11,67.48 185.81,67.26C186.51,67.04 187.33,66.78 188.04,66.87C188.76,66.96 189.49,67.42 190.11,67.82C190.72,68.21 191.34,68.59 191.75,69.25C192.16,69.91 192.47,70.81 192.56,71.78C192.64,72.74 192.42,73.97 192.26,75.04Z" fill="#f0f020"/>
<ellipse cx="168.5" cy="75.6" rx="1.4" ry="1.3" fill="#f01818"/>
<path d="M191.49,75.09C191.34,76.01 191.33,77.08 191.05,77.82C190.76,78.56 190.24,79.09 189.77,79.54C189.30,79.99 188.80,80.29 188.24,80.52C187.68,80.75 187.00,80.98 186.40,80.93C185.80,80.88 185.13,80.59 184.64,80.23C184.15,79.87 183.76,79.34 183.47,78.74C183.18,78.14 182.96,77.41 182.89,76.61C182.82,75.80 182.93,74.78 183.07,73.90C183.21,73.03 183.46,72.12 183.73,71.34C184.01,70.56 184.29,69.73 184.72,69.24C185.16,68.75 185.76,68.60 186.34,68.39C186.93,68.17 187.61,67.90 188.22,67.93C188.84,67.96 189.54,68.21 190.05,68.57C190.57,68.92 190.99,69.45 191.31,70.06C191.63,70.68 191.94,71.43 191.97,72.27C192.00,73.11 191.64,74.16 191.49,75.09Z" fill="#f01818"/>
</g>
</g>
<g clip-path="url(#pc4)">
<g filter="url(#fz)">
<path d="M66.40,200.50C66.10,201.58 65.23,204.42 64.60,207.00C63.97,209.58 63.07,212.83 62.60,216.00C62.13,219.17 61.97,222.63 61.80,226.00C61.63,229.37 61.63,234.50 61.60,236.20" fill="none" stroke="#d3d9d7" stroke-width="1.7" stroke-linecap="round"/>
<path d="M61.50,162.00C60.92,161.50 58.98,159.75 58.00,159.00C57.02,158.25 56.00,157.75 55.60,157.50" fill="none" stroke="#dfe3e2" stroke-width="2.3" stroke-linecap="round"/>
<ellipse cx="57.2" cy="199.2" rx="2.6" ry="1.1" transform="rotate(-20 57.2 199.2)" fill="#d4d9d7"/>
<path d="M70.20,138.80C70.84,138.80 71.61,138.80 72.14,138.99C72.68,139.17 73.05,139.49 73.40,139.92C73.75,140.36 73.99,140.91 74.25,141.61C74.50,142.30 74.67,143.26 74.91,144.10C75.16,144.95 75.42,145.88 75.72,146.66C76.02,147.44 76.36,148.12 76.73,148.78C77.11,149.45 77.51,149.95 77.96,150.66C78.40,151.36 79.24,152.28 79.40,153.03C79.56,153.78 78.72,154.40 78.94,155.15C79.16,155.90 80.34,156.66 80.72,157.52C81.10,158.38 80.87,158.46 81.19,160.33C81.51,162.20 82.40,165.89 82.61,168.75C82.83,171.61 82.60,174.37 82.49,177.49C82.38,180.61 82.22,184.56 81.95,187.47C81.67,190.38 81.57,192.93 80.83,194.96C80.09,196.99 79.41,198.60 77.51,199.64C75.60,200.68 72.07,201.20 69.40,201.20C66.73,201.20 63.25,200.68 61.46,199.64C59.67,198.60 59.17,196.99 58.65,194.96C58.13,192.93 58.31,190.38 58.35,187.47C58.39,184.56 58.66,180.61 58.89,177.49C59.12,174.37 59.21,171.61 59.72,168.75C60.24,165.89 61.59,162.20 61.99,160.33C62.39,158.46 61.83,158.38 62.10,157.52C62.36,156.66 63.45,155.90 63.58,155.15C63.70,154.40 62.77,153.78 62.84,153.03C62.90,152.28 63.62,151.36 63.97,150.66C64.33,149.95 64.67,149.45 64.96,148.78C65.24,148.12 65.49,147.44 65.69,146.66C65.90,145.88 66.04,144.95 66.17,144.10C66.31,143.26 66.36,142.30 66.52,141.61C66.68,140.91 66.85,140.36 67.14,139.92C67.44,139.49 67.77,139.17 68.28,138.99C68.79,138.80 69.56,138.80 70.20,138.80Z" fill="url(#mg4)" filter="url(#fur)"/>
<ellipse cx="70.2" cy="143.8" rx="7.5" ry="10.6" fill="url(#hg)" clip-path="url(#bc4)"/>
<ellipse cx="70.2" cy="141.0" rx="2.3" ry="1.3" fill="#6f8580" opacity="0.8"/>
<ellipse cx="70.2" cy="145.0" rx="1.6" ry="2.0" fill="#cfdad7" opacity="0.7"/>
<path d="M70.4,157.4 q-1.5,4 -5.2,7.4 M72.8,157.4 q1.5,4 5.2,7.4 M66.1,156.4 q-2.5,-3.5 -0.8,-7 M77.1,156.4 q2.5,-3.5 0.8,-7" fill="none" stroke="#a4adab" stroke-width="0.9" opacity="0.8"/>
</g>
<g filter="url(#fz2)" clip-path="url(#mc4)">
<path d="M59.30,172.60C60.23,171.53 61.72,171.80 63.00,171.60C64.28,171.40 65.42,171.17 67.00,171.40C68.58,171.63 71.23,171.98 72.50,173.00C73.77,174.02 73.65,176.08 74.60,177.50C75.55,178.92 77.50,180.25 78.20,181.50C78.90,182.75 78.93,183.75 78.80,185.00C78.67,186.25 77.97,187.75 77.40,189.00C76.83,190.25 76.13,191.33 75.40,192.50C74.67,193.67 73.97,194.88 73.00,196.00C72.03,197.12 70.73,199.10 69.60,199.20C68.47,199.30 67.27,197.70 66.20,196.60C65.13,195.50 64.20,194.03 63.20,192.60C62.20,191.17 61.07,189.60 60.20,188.00C59.33,186.40 58.47,184.67 58.00,183.00C57.53,181.33 57.18,179.73 57.40,178.00C57.62,176.27 58.37,173.67 59.30,172.60Z" fill="#5a36ec"/>
<ellipse cx="65.2" cy="183.3" rx="1.0" ry="0.8" fill="#e8e0ff"/>
<ellipse cx="63.5" cy="189.0" rx="1.6" ry="0.6" fill="#e8e0ff"/>
</g>
</g>
<g clip-path="url(#pc5)">
<g filter="url(#fz)">
<path d="M106.40,201.50C106.23,202.75 105.40,206.25 105.40,209.00C105.40,211.75 105.97,215.00 106.40,218.00C106.83,221.00 107.67,223.97 108.00,227.00C108.33,230.03 108.33,234.67 108.40,236.20" fill="none" stroke="#d3d9d7" stroke-width="1.7" stroke-linecap="round"/>
<path d="M99.00,162.00C98.50,161.58 96.90,160.20 96.00,159.50C95.10,158.80 94.00,158.08 93.60,157.80" fill="none" stroke="#dfe3e2" stroke-width="2.3" stroke-linecap="round"/>
<ellipse cx="96.5" cy="201.0" rx="3.0" ry="1.1" transform="rotate(-15 96.5 201.0)" fill="#d4d9d7"/>
<path d="M108.60,139.60C109.24,139.60 110.01,139.60 110.53,139.79C111.05,139.97 111.40,140.29 111.72,140.72C112.05,141.16 112.25,141.71 112.46,142.41C112.66,143.10 112.76,144.06 112.95,144.90C113.14,145.75 113.34,146.68 113.59,147.46C113.84,148.24 114.13,148.92 114.46,149.58C114.78,150.25 115.16,150.75 115.55,151.46C115.95,152.16 116.67,153.08 116.83,153.83C117.00,154.58 116.31,155.20 116.55,155.95C116.78,156.70 117.91,157.46 118.24,158.32C118.57,159.18 118.08,159.26 118.53,161.13C118.98,163.00 120.46,166.69 120.92,169.55C121.38,172.41 121.22,175.17 121.28,178.29C121.33,181.41 121.38,185.36 121.24,188.27C121.11,191.18 121.14,193.73 120.45,195.76C119.76,197.79 119.12,199.40 117.11,200.44C115.10,201.48 111.30,202.00 108.40,202.00C105.50,202.00 101.70,201.48 99.70,200.44C97.70,199.40 97.06,197.79 96.39,195.76C95.71,193.73 95.76,191.18 95.64,188.27C95.53,185.36 95.60,181.41 95.68,178.29C95.75,175.17 95.61,172.41 96.09,169.55C96.56,166.69 98.07,163.00 98.53,161.13C98.99,159.26 98.50,159.18 98.84,158.32C99.18,157.46 100.31,156.70 100.55,155.95C100.79,155.20 100.10,154.58 100.27,153.83C100.44,153.08 101.17,152.16 101.57,151.46C101.97,150.75 102.35,150.25 102.68,149.58C103.01,148.92 103.31,148.24 103.56,147.46C103.82,146.68 104.02,145.75 104.21,144.90C104.41,144.06 104.52,143.10 104.73,142.41C104.94,141.71 105.15,141.16 105.47,140.72C105.79,140.29 106.15,139.97 106.67,139.79C107.19,139.60 107.96,139.60 108.60,139.60Z" fill="url(#mg5)" filter="url(#fur)"/>
<ellipse cx="108.6" cy="144.6" rx="7.5" ry="10.6" fill="url(#hg)" clip-path="url(#bc5)"/>
<ellipse cx="108.6" cy="141.8" rx="2.3" ry="1.3" fill="#6f8580" opacity="0.8"/>
<ellipse cx="108.6" cy="145.8" rx="1.6" ry="2.0" fill="#cfdad7" opacity="0.7"/>
<path d="M107.3,158.2 q-1.5,4 -5.2,7.4 M109.7,158.2 q1.5,4 5.2,7.4 M103.0,157.2 q-2.5,-3.5 -0.8,-7 M114.0,157.2 q2.5,-3.5 0.8,-7" fill="none" stroke="#a4adab" stroke-width="0.9" opacity="0.8"/>
</g>
<g filter="url(#fz2)" clip-path="url(#mc5)">
<path d="M96.60,170.00C97.27,168.17 98.10,167.62 100.00,167.00C101.90,166.38 105.33,166.30 108.00,166.30C110.67,166.30 113.93,166.38 116.00,167.00C118.07,167.62 119.53,168.17 120.40,170.00C121.27,171.83 121.10,175.33 121.20,178.00C121.30,180.67 121.25,183.92 121.00,186.00C120.75,188.08 120.42,189.08 119.70,190.50C118.98,191.92 117.82,193.25 116.70,194.50C115.58,195.75 114.37,196.83 113.00,198.00C111.63,199.17 109.92,201.03 108.50,201.50C107.08,201.97 105.75,201.43 104.50,200.80C103.25,200.17 102.08,198.88 101.00,197.70C99.92,196.52 98.80,195.32 98.00,193.70C97.20,192.08 96.53,190.62 96.20,188.00C95.87,185.38 95.93,181.00 96.00,178.00C96.07,175.00 95.93,171.83 96.60,170.00Z" fill="#5a36ec"/>
<path d="M118.79,183.60C118.68,185.70 118.00,188.03 117.44,189.71C116.88,191.39 116.22,192.43 115.44,193.69C114.66,194.94 114.02,196.64 112.75,197.23C111.48,197.82 109.39,197.40 107.80,197.25C106.21,197.09 104.52,196.81 103.18,196.31C101.84,195.80 100.63,195.30 99.76,194.22C98.90,193.13 98.48,191.58 98.00,189.81C97.52,188.04 96.85,185.66 96.87,183.60C96.88,181.54 97.64,179.26 98.09,177.45C98.54,175.63 98.73,173.85 99.57,172.73C100.40,171.60 101.74,171.22 103.11,170.68C104.48,170.14 106.20,169.59 107.80,169.49C109.40,169.38 111.38,169.46 112.73,170.04C114.07,170.62 114.97,171.78 115.86,172.96C116.75,174.13 117.57,175.33 118.06,177.10C118.55,178.87 118.89,181.50 118.79,183.60Z" fill="#2f4cff"/>
<path d="M115.18,183.30C115.26,184.27 114.95,185.38 114.49,186.30C114.03,187.22 113.31,188.20 112.41,188.81C111.52,189.42 110.20,189.60 109.10,189.94C108.00,190.28 106.92,190.83 105.80,190.87C104.68,190.91 103.45,190.55 102.38,190.18C101.32,189.80 100.18,189.30 99.42,188.62C98.65,187.93 98.18,186.95 97.79,186.06C97.40,185.18 97.12,184.24 97.08,183.30C97.03,182.36 97.11,181.31 97.53,180.45C97.95,179.59 98.81,178.82 99.61,178.14C100.42,177.47 101.34,176.73 102.37,176.40C103.40,176.07 104.68,176.11 105.80,176.16C106.92,176.20 108.02,176.37 109.10,176.66C110.18,176.95 111.47,177.25 112.30,177.89C113.12,178.52 113.57,179.55 114.05,180.45C114.53,181.35 115.11,182.33 115.18,183.30Z" fill="#30d8f0"/>
<path d="M114.21,183.20C114.32,184.04 114.16,185.08 113.68,185.83C113.21,186.58 112.14,187.05 111.38,187.69C110.62,188.33 110.06,189.35 109.13,189.66C108.20,189.97 106.89,189.60 105.80,189.56C104.71,189.52 103.52,189.74 102.60,189.42C101.68,189.10 101.05,188.24 100.29,187.64C99.52,187.04 98.38,186.54 97.99,185.80C97.60,185.06 97.94,184.07 97.94,183.20C97.95,182.33 97.72,181.41 98.04,180.61C98.35,179.81 99.09,179.02 99.85,178.41C100.60,177.79 101.57,177.20 102.56,176.91C103.55,176.61 104.71,176.66 105.80,176.65C106.89,176.63 108.05,176.57 109.08,176.83C110.10,177.10 111.28,177.60 111.94,178.26C112.60,178.92 112.65,179.97 113.03,180.79C113.40,181.61 114.10,182.36 114.21,183.20Z" fill="#35e030"/>
<path d="M112.47,183.60C112.54,184.25 112.80,185.01 112.57,185.62C112.34,186.23 111.74,186.90 111.10,187.28C110.47,187.66 109.53,187.64 108.78,187.89C108.03,188.15 107.36,188.77 106.60,188.83C105.84,188.89 104.90,188.58 104.25,188.24C103.60,187.90 103.31,187.21 102.71,186.78C102.10,186.34 100.91,186.16 100.60,185.63C100.30,185.10 100.76,184.24 100.86,183.60C100.97,182.96 100.99,182.36 101.25,181.79C101.51,181.22 101.91,180.65 102.42,180.18C102.92,179.72 103.57,179.19 104.27,179.00C104.96,178.81 105.82,179.04 106.60,179.03C107.38,179.02 108.22,178.77 108.97,178.92C109.72,179.07 110.57,179.46 111.10,179.93C111.63,180.39 111.93,181.11 112.16,181.72C112.38,182.33 112.40,182.95 112.47,183.60Z" fill="#f0f020"/>
<path d="M111.98,183.00C111.98,183.44 111.45,183.87 111.20,184.31C110.95,184.75 110.87,185.27 110.48,185.65C110.09,186.03 109.47,186.40 108.86,186.58C108.24,186.76 107.44,186.80 106.80,186.73C106.16,186.66 105.62,186.31 104.99,186.14C104.36,185.97 103.53,186.00 103.02,185.72C102.52,185.44 102.11,184.90 101.96,184.44C101.81,183.99 102.02,183.45 102.12,183.00C102.23,182.55 102.37,182.14 102.59,181.74C102.81,181.34 103.06,180.90 103.47,180.60C103.88,180.30 104.50,180.18 105.05,179.96C105.61,179.74 106.19,179.32 106.80,179.28C107.41,179.23 108.08,179.51 108.72,179.67C109.35,179.83 110.20,179.92 110.62,180.25C111.03,180.59 110.95,181.24 111.18,181.69C111.41,182.15 111.98,182.56 111.98,183.00Z" fill="#ff8a10"/>
<path d="M111.68,182.17C111.57,182.35 111.10,182.47 110.78,182.59C110.47,182.71 110.18,182.82 109.79,182.91C109.41,183.01 109.00,183.16 108.48,183.15C107.97,183.14 107.31,182.93 106.71,182.85C106.11,182.78 105.42,182.81 104.86,182.69C104.30,182.57 103.66,182.33 103.35,182.13C103.04,181.93 103.20,181.69 103.00,181.48C102.81,181.26 102.22,181.03 102.18,180.84C102.14,180.65 102.51,180.49 102.77,180.34C103.03,180.19 103.34,180.06 103.74,179.96C104.15,179.86 104.64,179.75 105.21,179.74C105.77,179.72 106.53,179.76 107.13,179.87C107.73,179.98 108.24,180.23 108.80,180.39C109.36,180.56 110.06,180.67 110.50,180.86C110.94,181.05 111.24,181.31 111.43,181.52C111.63,181.74 111.79,181.99 111.68,182.17Z" fill="#f01818"/>
<ellipse cx="104.0" cy="186.6" rx="1.5" ry="1.3" fill="#f01818"/>
<ellipse cx="103.4" cy="181.0" rx="1.2" ry="1.0" fill="#f01818"/>
</g>
</g>
<g clip-path="url(#pc6)">
<g filter="url(#fz)">
<path d="M147.60,203.50C147.57,204.58 148.00,207.58 147.40,210.00C146.80,212.42 145.73,215.17 144.00,218.00C142.27,220.83 139.07,223.97 137.00,227.00C134.93,230.03 132.50,234.67 131.60,236.20" fill="none" stroke="#d3d9d7" stroke-width="1.7" stroke-linecap="round"/>
<path d="M134.00,166.00C133.42,165.70 131.60,164.60 130.50,164.20C129.40,163.80 127.92,163.70 127.40,163.60" fill="none" stroke="#dfe3e2" stroke-width="2.3" stroke-linecap="round"/>
<path d="M139.00,202.00C138.25,202.42 135.97,203.60 134.50,204.50C133.03,205.40 130.92,206.92 130.20,207.40" fill="none" stroke="#dfe3e2" stroke-width="2.3" stroke-linecap="round"/>
<path d="M140.70,138.00C141.34,138.00 142.11,138.00 142.65,138.20C143.18,138.40 143.56,138.73 143.91,139.19C144.26,139.65 144.51,140.23 144.77,140.97C145.03,141.71 145.21,142.72 145.46,143.61C145.71,144.50 145.98,145.49 146.29,146.32C146.60,147.14 146.95,147.86 147.32,148.56C147.70,149.26 148.12,149.79 148.57,150.54C149.02,151.29 150.02,152.26 150.03,153.05C150.04,153.84 148.59,154.50 148.63,155.29C148.66,156.08 149.88,156.89 150.23,157.80C150.57,158.71 150.03,158.79 150.69,160.77C151.34,162.75 153.42,166.66 154.16,169.68C154.90,172.71 154.86,175.62 155.15,178.92C155.44,182.22 155.79,186.40 155.89,189.48C155.99,192.56 156.21,195.25 155.74,197.40C155.27,199.55 154.81,201.25 153.07,202.35C151.33,203.45 147.93,204.00 145.30,204.00C142.67,204.00 139.19,203.45 137.30,202.35C135.40,201.25 134.70,199.55 133.94,197.40C133.17,195.25 133.02,192.56 132.69,189.48C132.36,186.40 132.12,182.22 131.95,178.92C131.78,175.62 131.33,172.71 131.66,169.68C131.98,166.66 133.51,162.75 133.89,160.77C134.27,158.79 133.72,158.71 133.93,157.80C134.15,156.89 135.26,156.08 135.19,155.29C135.11,154.50 133.57,153.84 133.47,153.05C133.37,152.26 134.24,151.29 134.58,150.54C134.93,149.79 135.27,149.26 135.55,148.56C135.83,147.86 136.07,147.14 136.27,146.32C136.46,145.49 136.59,144.50 136.72,143.61C136.85,142.72 136.89,141.71 137.04,140.97C137.20,140.23 137.37,139.65 137.65,139.19C137.94,138.73 138.27,138.40 138.78,138.20C139.29,138.00 140.06,138.00 140.70,138.00Z" fill="url(#mg6)" filter="url(#fur)"/>
<ellipse cx="140.7" cy="143.3" rx="7.5" ry="11.2" fill="url(#hg)" clip-path="url(#bc6)"/>
<ellipse cx="140.7" cy="140.3" rx="2.3" ry="1.3" fill="#6f8580" opacity="0.8"/>
<ellipse cx="140.7" cy="144.6" rx="1.6" ry="2.0" fill="#cfdad7" opacity="0.7"/>
<path d="M141.1,157.8 q-1.5,4 -5.2,7.4 M143.5,157.8 q1.5,4 5.2,7.4 M136.8,156.8 q-2.5,-3.5 -0.8,-7 M147.8,156.8 q2.5,-3.5 0.8,-7" fill="none" stroke="#a4adab" stroke-width="0.9" opacity="0.8"/>
</g>
<g filter="url(#fz2)" clip-path="url(#mc6)">
<path d="M133.60,178.10C133.97,176.68 134.45,176.05 135.40,175.80C136.35,175.55 138.40,177.03 139.30,176.60C140.20,176.17 140.17,173.58 140.80,173.20C141.43,172.82 142.58,173.48 143.10,174.30C143.62,175.12 143.00,177.60 143.90,178.10C144.80,178.60 147.35,177.03 148.50,177.30C149.65,177.57 150.00,178.80 150.80,179.70C151.60,180.60 153.00,181.68 153.30,182.70C153.60,183.72 153.12,184.90 152.60,185.80C152.08,186.70 150.88,187.20 150.20,188.10C149.52,189.00 149.42,190.30 148.50,191.20C147.58,192.10 145.85,192.73 144.70,193.50C143.55,194.27 142.77,195.80 141.60,195.80C140.43,195.80 138.87,194.52 137.70,193.50C136.53,192.48 135.35,191.23 134.60,189.70C133.85,188.17 133.37,186.23 133.20,184.30C133.03,182.37 133.23,179.52 133.60,178.10Z" fill="#5a36ec"/>
</g>
</g>
<g clip-path="url(#pc7)">
<g filter="url(#fz)">
<path d="M187.80,201.50C187.77,202.75 187.93,206.25 187.60,209.00C187.27,211.75 186.43,215.00 185.80,218.00C185.17,221.00 184.23,223.97 183.80,227.00C183.37,230.03 183.30,234.67 183.20,236.20" fill="none" stroke="#d3d9d7" stroke-width="1.7" stroke-linecap="round"/>
<path d="M173.00,200.50C172.77,201.25 171.90,203.33 171.60,205.00C171.30,206.67 171.27,209.58 171.20,210.50" fill="none" stroke="#dfe3e2" stroke-width="2.3" stroke-linecap="round"/>
<ellipse cx="189.8" cy="201.6" rx="1.6" ry="2.4" transform="rotate(0 189.8 201.6)" fill="#d4d9d7"/>
<path d="M178.40,138.80C179.04,138.80 179.81,138.80 180.33,138.99C180.86,139.17 181.21,139.48 181.54,139.92C181.86,140.35 182.07,140.90 182.28,141.59C182.49,142.28 182.61,143.23 182.80,144.07C183.00,144.91 183.21,145.84 183.46,146.61C183.72,147.39 184.02,148.06 184.35,148.72C184.69,149.38 185.06,149.88 185.47,150.58C185.87,151.28 186.63,152.19 186.77,152.94C186.92,153.68 186.14,154.30 186.34,155.04C186.55,155.79 187.69,156.54 188.03,157.40C188.36,158.26 187.71,158.33 188.34,160.19C188.96,162.05 191.13,165.72 191.78,168.56C192.44,171.40 192.16,174.14 192.25,177.24C192.34,180.34 192.43,184.27 192.31,187.16C192.19,190.05 192.26,192.59 191.54,194.60C190.83,196.62 190.16,198.22 188.04,199.25C185.91,200.28 181.88,200.80 178.80,200.80C175.72,200.80 171.68,200.28 169.54,199.25C167.40,198.22 166.71,196.62 165.98,194.60C165.24,192.59 165.27,190.05 165.11,187.16C164.96,184.27 165.00,180.34 165.05,177.24C165.10,174.14 164.79,171.40 165.40,168.56C166.01,165.72 168.14,162.05 168.74,160.19C169.34,158.33 168.69,158.26 169.01,157.40C169.34,156.54 170.47,155.79 170.66,155.04C170.86,154.30 170.07,153.68 170.21,152.94C170.35,152.19 171.09,151.28 171.48,150.58C171.88,149.88 172.25,149.38 172.58,148.72C172.90,148.06 173.19,147.39 173.44,146.61C173.68,145.84 173.88,144.91 174.06,144.07C174.25,143.23 174.35,142.28 174.55,141.59C174.76,140.90 174.96,140.35 175.28,139.92C175.60,139.48 175.95,139.17 176.47,138.99C176.99,138.80 177.76,138.80 178.40,138.80Z" fill="url(#mg7)" filter="url(#fur)"/>
<ellipse cx="178.4" cy="143.8" rx="7.5" ry="10.5" fill="url(#hg)" clip-path="url(#bc7)"/>
<ellipse cx="178.4" cy="141.0" rx="2.3" ry="1.3" fill="#6f8580" opacity="0.8"/>
<ellipse cx="178.4" cy="145.0" rx="1.6" ry="2.0" fill="#cfdad7" opacity="0.7"/>
<path d="M177.3,157.3 q-1.5,4 -5.2,7.4 M179.7,157.3 q1.5,4 5.2,7.4 M173.0,156.3 q-2.5,-3.5 -0.8,-7 M184.0,156.3 q2.5,-3.5 0.8,-7" fill="none" stroke="#a4adab" stroke-width="0.9" opacity="0.8"/>
</g>
<g filter="url(#fz2)" clip-path="url(#mc7)">
<path d="M164.80,176.60C165.85,175.38 168.87,175.22 170.90,174.70C172.93,174.18 175.60,174.22 177.00,173.50C178.40,172.78 178.65,171.48 179.30,170.40C179.95,169.32 179.73,167.67 180.90,167.00C182.07,166.33 184.77,165.97 186.30,166.40C187.83,166.83 189.05,168.42 190.10,169.60C191.15,170.78 192.05,172.08 192.60,173.50C193.15,174.92 193.52,176.68 193.40,178.10C193.28,179.52 192.83,181.10 191.90,182.00C190.97,182.90 189.00,183.00 187.80,183.50C186.60,184.00 185.85,184.62 184.70,185.00C183.55,185.38 182.05,185.28 180.90,185.80C179.75,186.32 178.97,187.38 177.80,188.10C176.63,188.82 175.18,189.97 173.90,190.10C172.62,190.23 171.38,189.48 170.10,188.90C168.82,188.32 167.12,187.75 166.20,186.60C165.28,185.45 164.83,183.67 164.60,182.00C164.37,180.33 163.75,177.82 164.80,176.60Z" fill="#5a36ec"/>
</g>
</g>
<g clip-path="url(#pc8)">
<g filter="url(#fz)">
<path d="M72.60,317.00C72.90,318.17 73.73,321.50 74.40,324.00C75.07,326.50 75.93,329.17 76.60,332.00C77.27,334.83 77.93,338.12 78.40,341.00C78.87,343.88 79.23,347.92 79.40,349.30" fill="none" stroke="#d3d9d7" stroke-width="1.7" stroke-linecap="round"/>
<path d="M78.50,274.00C78.82,273.50 80.00,271.93 80.40,271.00C80.80,270.07 80.82,268.83 80.90,268.40" fill="none" stroke="#dfe3e2" stroke-width="2.3" stroke-linecap="round"/>
<ellipse cx="62.0" cy="318.2" rx="2.4" ry="1.1" transform="rotate(0 62.0 318.2)" fill="#d4d9d7"/>
<ellipse cx="79.4" cy="318.0" rx="2.2" ry="1.3" transform="rotate(0 79.4 318.0)" fill="#d4d9d7"/>
<path d="M67.60,251.80C68.24,251.80 69.01,251.80 69.54,252.00C70.06,252.19 70.42,252.52 70.76,252.98C71.09,253.45 71.31,254.03 71.54,254.76C71.76,255.50 71.89,256.50 72.11,257.39C72.32,258.28 72.54,259.27 72.82,260.09C73.09,260.91 73.40,261.63 73.74,262.33C74.09,263.03 74.48,263.56 74.90,264.30C75.31,265.05 76.03,266.01 76.24,266.80C76.46,267.59 75.89,268.25 76.18,269.04C76.47,269.83 77.61,270.63 77.97,271.54C78.34,272.45 77.88,272.53 78.35,274.50C78.82,276.48 80.28,280.37 80.78,283.38C81.29,286.40 81.25,289.31 81.39,292.60C81.54,295.89 81.70,300.05 81.65,303.12C81.59,306.19 81.70,308.88 81.07,311.02C80.44,313.16 79.84,314.86 77.86,315.96C75.89,317.05 72.10,317.60 69.20,317.60C66.30,317.60 62.49,317.05 60.46,315.96C58.42,314.86 57.74,313.16 57.01,311.02C56.27,308.88 56.25,306.19 56.05,303.12C55.85,300.05 55.81,295.89 55.79,292.60C55.78,289.31 55.59,286.40 55.95,283.38C56.31,280.37 57.58,276.48 57.95,274.50C58.32,272.53 57.87,272.45 58.19,271.54C58.50,270.63 59.61,269.83 59.86,269.04C60.11,268.25 59.51,267.59 59.68,266.80C59.86,266.01 60.53,265.05 60.91,264.30C61.29,263.56 61.66,263.03 61.97,262.33C62.28,261.63 62.55,260.91 62.79,260.09C63.02,259.27 63.20,258.28 63.37,257.39C63.54,256.50 63.62,255.50 63.81,254.76C64.00,254.03 64.19,253.45 64.50,252.98C64.81,252.52 65.16,252.19 65.67,252.00C66.19,251.80 66.96,251.80 67.60,251.80Z" fill="url(#mg8)" filter="url(#fur)"/>
<ellipse cx="67.6" cy="257.1" rx="7.5" ry="11.2" fill="url(#hg)" clip-path="url(#bc8)"/>
<ellipse cx="67.6" cy="254.1" rx="2.3" ry="1.3" fill="#6f8580" opacity="0.8"/>
<ellipse cx="67.6" cy="258.4" rx="1.6" ry="2.0" fill="#cfdad7" opacity="0.7"/>
<path d="M67.0,271.5 q-1.5,4 -5.2,7.4 M69.4,271.5 q1.5,4 5.2,7.4 M62.7,270.5 q-2.5,-3.5 -0.8,-7 M73.7,270.5 q2.5,-3.5 0.8,-7" fill="none" stroke="#a4adab" stroke-width="0.9" opacity="0.8"/>
</g>
<g filter="url(#fz2)" clip-path="url(#mc8)">
<path d="M57.20,291.10C57.87,289.30 59.17,288.38 60.80,288.00C62.43,287.62 64.95,288.92 67.00,288.80C69.05,288.68 71.18,287.78 73.10,287.30C75.02,286.82 77.05,285.52 78.50,285.90C79.95,286.28 81.12,287.70 81.80,289.60C82.48,291.50 82.60,294.73 82.60,297.30C82.60,299.87 82.32,302.82 81.80,305.00C81.28,307.18 80.43,308.87 79.50,310.40C78.57,311.93 77.52,313.32 76.20,314.20C74.88,315.08 73.13,315.78 71.60,315.70C70.07,315.62 68.42,314.30 67.00,313.70C65.58,313.10 64.40,313.30 63.10,312.10C61.80,310.90 60.25,308.72 59.20,306.50C58.15,304.28 57.13,301.37 56.80,298.80C56.47,296.23 56.53,292.90 57.20,291.10Z" fill="#5a36ec"/>
<path d="M78.47,300.60C78.47,302.04 78.30,303.66 77.94,304.92C77.59,306.17 77.13,307.36 76.36,308.13C75.59,308.89 74.44,309.09 73.32,309.50C72.19,309.91 70.89,310.47 69.60,310.58C68.31,310.69 66.74,310.57 65.60,310.18C64.47,309.78 63.42,309.12 62.77,308.21C62.12,307.29 62.05,305.96 61.69,304.69C61.34,303.42 60.71,302.00 60.64,300.60C60.57,299.20 60.86,297.50 61.27,296.29C61.68,295.08 62.37,294.24 63.09,293.35C63.80,292.46 64.48,291.37 65.57,290.94C66.65,290.51 68.30,290.67 69.60,290.77C70.90,290.86 72.25,291.15 73.39,291.51C74.53,291.88 75.70,292.17 76.46,292.96C77.22,293.76 77.61,295.01 77.95,296.28C78.28,297.55 78.47,299.16 78.47,300.60Z" fill="#2f4cff"/>
<ellipse cx="66.2" cy="297.4" rx="1.9" ry="1.7" fill="#30d8f0"/>
<ellipse cx="67.2" cy="302.8" rx="1.3" ry="1.3" fill="#30d8f0"/>
<ellipse cx="66.2" cy="297.4" rx="0.9" ry="0.8" fill="#70f0c8"/>
</g>
</g>
<g clip-path="url(#pc9)">
<g filter="url(#fz)">
<path d="M106.20,318.60C106.13,319.83 106.10,323.43 105.80,326.00C105.50,328.57 104.93,331.33 104.40,334.00C103.87,336.67 103.07,339.45 102.60,342.00C102.13,344.55 101.77,348.08 101.60,349.30" fill="none" stroke="#d3d9d7" stroke-width="1.7" stroke-linecap="round"/>
<path d="M116.50,278.00C117.00,277.50 118.68,275.90 119.50,275.00C120.32,274.10 121.08,273.00 121.40,272.60" fill="none" stroke="#dfe3e2" stroke-width="2.3" stroke-linecap="round"/>
<path d="M116.00,317.00C116.50,317.23 117.97,317.73 119.00,318.40C120.03,319.07 121.67,320.57 122.20,321.00" fill="none" stroke="#dfe3e2" stroke-width="2.3" stroke-linecap="round"/>
<path d="M108.00,254.90C108.64,254.90 109.41,254.90 109.92,255.09C110.44,255.29 110.78,255.61 111.08,256.06C111.39,256.51 111.58,257.08 111.76,257.79C111.94,258.51 112.01,259.50 112.17,260.37C112.33,261.23 112.49,262.20 112.71,263.00C112.93,263.81 113.20,264.50 113.50,265.19C113.81,265.87 114.16,266.39 114.54,267.12C114.91,267.85 115.65,268.79 115.73,269.56C115.82,270.33 114.91,270.98 115.05,271.75C115.19,272.52 116.31,273.30 116.59,274.19C116.88,275.08 116.33,275.15 116.77,277.08C117.22,279.01 118.84,282.82 119.26,285.76C119.69,288.71 119.37,291.55 119.31,294.77C119.26,297.98 119.17,302.05 118.93,305.05C118.69,308.05 118.63,310.68 117.87,312.77C117.11,314.86 116.41,316.52 114.36,317.59C112.32,318.66 108.50,319.20 105.60,319.20C102.70,319.20 98.92,318.66 96.96,317.59C94.99,316.52 94.41,314.86 93.81,312.77C93.20,310.68 93.34,308.05 93.33,305.05C93.31,302.05 93.53,297.98 93.71,294.77C93.90,291.55 93.79,288.71 94.43,285.76C95.08,282.82 96.98,279.01 97.57,277.08C98.16,275.15 97.61,275.08 97.97,274.19C98.32,273.30 99.49,272.52 99.69,271.75C99.89,270.98 99.03,270.33 99.17,269.56C99.32,268.79 100.13,267.85 100.55,267.12C100.98,266.39 101.37,265.87 101.73,265.19C102.08,264.50 102.40,263.81 102.68,263.00C102.97,262.20 103.20,261.23 103.43,260.37C103.65,259.50 103.79,258.51 104.03,257.79C104.26,257.08 104.49,256.51 104.83,256.06C105.17,255.61 105.53,255.29 106.06,255.09C106.59,254.90 107.36,254.90 108.00,254.90Z" fill="url(#mg9)" filter="url(#fur)"/>
<ellipse cx="108.0" cy="260.0" rx="7.5" ry="10.9" fill="url(#hg)" clip-path="url(#bc9)"/>
<ellipse cx="108.0" cy="257.2" rx="2.3" ry="1.3" fill="#6f8580" opacity="0.8"/>
<ellipse cx="108.0" cy="261.3" rx="1.6" ry="2.0" fill="#cfdad7" opacity="0.7"/>
<path d="M106.0,274.1 q-1.5,4 -5.2,7.4 M108.4,274.1 q1.5,4 5.2,7.4 M101.7,273.1 q-2.5,-3.5 -0.8,-7 M112.7,273.1 q2.5,-3.5 0.8,-7" fill="none" stroke="#a4adab" stroke-width="0.9" opacity="0.8"/>
</g>
<g filter="url(#fz2)" clip-path="url(#mc9)">
<path d="M118.62,300.70C118.60,303.92 118.40,307.89 117.97,310.33C117.55,312.77 116.96,314.02 116.06,315.34C115.16,316.66 114.30,317.60 112.56,318.24C110.82,318.88 107.90,319.24 105.60,319.18C103.30,319.12 100.54,318.50 98.78,317.87C97.03,317.24 96.01,316.67 95.10,315.40C94.18,314.14 93.71,312.71 93.31,310.26C92.91,307.81 92.67,303.87 92.70,300.70C92.73,297.53 93.04,293.67 93.47,291.26C93.90,288.85 94.38,287.51 95.28,286.25C96.17,284.98 97.12,284.27 98.84,283.67C100.56,283.08 103.33,282.72 105.60,282.66C107.87,282.61 110.74,282.79 112.48,283.36C114.22,283.93 115.10,284.82 116.03,286.09C116.96,287.37 117.63,288.58 118.06,291.01C118.49,293.44 118.63,297.48 118.62,300.70Z" fill="#5a36ec"/>
<path d="M117.34,300.60C117.40,302.78 117.26,305.46 116.84,307.23C116.42,309.00 115.69,310.13 114.80,311.22C113.92,312.31 112.99,313.31 111.50,313.77C110.02,314.23 107.78,313.95 105.90,313.97C104.02,313.98 101.72,314.36 100.25,313.87C98.79,313.39 98.00,312.18 97.12,311.07C96.24,309.96 95.44,308.97 94.96,307.22C94.49,305.48 94.29,302.82 94.27,300.60C94.24,298.38 94.30,295.59 94.81,293.88C95.31,292.18 96.37,291.36 97.33,290.37C98.28,289.38 99.08,288.54 100.51,287.94C101.94,287.34 104.09,286.80 105.90,286.76C107.71,286.73 109.90,287.18 111.38,287.72C112.87,288.25 113.95,288.90 114.81,289.97C115.66,291.05 116.09,292.40 116.51,294.17C116.93,295.95 117.29,298.42 117.34,300.60Z" fill="#2f4cff"/>
<path d="M115.53,301.20C115.53,302.66 116.71,304.25 116.42,305.59C116.13,306.94 114.88,308.26 113.79,309.27C112.70,310.28 111.30,311.17 109.90,311.65C108.50,312.13 106.89,312.19 105.40,312.17C103.91,312.15 102.03,312.32 100.95,311.54C99.86,310.76 99.82,308.53 98.88,307.48C97.93,306.42 95.85,306.28 95.28,305.23C94.72,304.19 95.54,302.56 95.50,301.20C95.45,299.84 94.60,298.24 95.02,297.06C95.44,295.88 96.99,295.02 98.04,294.11C99.08,293.21 100.05,292.17 101.28,291.63C102.51,291.09 104.02,290.89 105.40,290.89C106.78,290.88 108.18,291.18 109.54,291.59C110.89,292.00 112.39,292.50 113.53,293.37C114.68,294.24 116.09,295.50 116.42,296.81C116.75,298.11 115.53,299.74 115.53,301.20Z" fill="#30d8f0"/>
<path d="M115.37,301.20C115.23,302.32 113.71,303.24 113.21,304.39C112.71,305.53 113.01,307.01 112.39,308.07C111.77,309.12 110.63,310.15 109.50,310.72C108.37,311.28 106.85,311.61 105.60,311.48C104.35,311.35 103.16,310.49 102.03,309.92C100.89,309.36 99.57,308.97 98.78,308.09C98.00,307.21 97.75,305.81 97.32,304.67C96.90,303.52 96.12,302.31 96.23,301.20C96.33,300.09 97.54,299.16 97.95,298.00C98.36,296.83 98.02,295.17 98.69,294.21C99.35,293.26 100.79,292.58 101.94,292.27C103.09,291.96 104.42,292.28 105.60,292.37C106.78,292.46 107.87,292.52 109.04,292.81C110.21,293.10 111.77,293.31 112.61,294.11C113.45,294.92 113.60,296.48 114.06,297.66C114.52,298.84 115.52,300.08 115.37,301.20Z" fill="#35e030"/>
<path d="M112.99,302.80C113.03,303.62 112.55,304.49 112.29,305.32C112.02,306.15 111.90,307.29 111.37,307.79C110.85,308.30 109.82,308.01 109.12,308.35C108.42,308.68 107.87,309.74 107.20,309.82C106.53,309.89 105.80,309.16 105.12,308.80C104.44,308.44 103.59,308.27 103.14,307.66C102.69,307.05 102.66,305.97 102.44,305.16C102.21,304.35 101.83,303.60 101.81,302.80C101.79,302.00 102.05,301.14 102.32,300.38C102.58,299.62 102.96,298.94 103.40,298.26C103.84,297.57 104.31,296.63 104.94,296.27C105.57,295.92 106.43,296.20 107.20,296.14C107.97,296.08 108.91,295.62 109.58,295.92C110.25,296.23 110.83,297.22 111.24,297.97C111.65,298.72 111.74,299.60 112.03,300.41C112.32,301.21 112.94,301.98 112.99,302.80Z" fill="#f0f020"/>
<path d="M111.91,302.80C111.89,303.43 111.10,303.99 110.86,304.66C110.63,305.33 110.83,306.39 110.48,306.82C110.12,307.25 109.25,307.12 108.71,307.27C108.16,307.42 107.76,307.58 107.20,307.74C106.64,307.90 105.85,308.46 105.37,308.22C104.89,307.99 104.72,306.87 104.34,306.31C103.96,305.76 103.37,305.47 103.10,304.88C102.83,304.30 102.65,303.45 102.73,302.80C102.81,302.15 103.31,301.55 103.58,300.96C103.85,300.37 104.00,299.77 104.34,299.28C104.67,298.80 105.12,298.27 105.60,298.06C106.08,297.85 106.66,298.05 107.20,298.02C107.74,298.00 108.28,297.82 108.85,297.91C109.42,298.01 110.27,298.10 110.63,298.59C110.99,299.08 110.82,300.15 111.03,300.85C111.24,301.55 111.94,302.17 111.91,302.80Z" fill="#ff8a10"/>
<path d="M111.11,300.35C111.05,300.83 111.01,301.37 110.89,301.79C110.78,302.21 110.59,302.55 110.42,302.88C110.25,303.21 110.08,303.56 109.89,303.77C109.70,303.98 109.48,304.12 109.29,304.13C109.09,304.14 108.87,304.06 108.72,303.83C108.58,303.59 108.51,303.09 108.42,302.70C108.34,302.32 108.23,301.94 108.21,301.50C108.19,301.06 108.27,300.56 108.30,300.05C108.34,299.55 108.29,298.90 108.40,298.47C108.51,298.04 108.78,297.83 108.96,297.46C109.15,297.10 109.31,296.41 109.49,296.28C109.68,296.14 109.90,296.53 110.07,296.65C110.25,296.78 110.40,296.86 110.55,297.02C110.71,297.18 110.91,297.30 111.02,297.61C111.13,297.92 111.20,298.42 111.21,298.88C111.22,299.34 111.16,299.86 111.11,300.35Z" fill="#f01818"/>
<path d="M105.49,305.60C105.51,305.90 105.64,306.29 105.58,306.54C105.51,306.79 105.24,306.94 105.09,307.11C104.93,307.28 104.79,307.46 104.63,307.56C104.46,307.65 104.28,307.68 104.10,307.70C103.92,307.72 103.70,307.77 103.54,307.67C103.38,307.56 103.29,307.26 103.14,307.07C102.99,306.88 102.72,306.77 102.65,306.52C102.57,306.28 102.68,305.91 102.67,305.60C102.67,305.29 102.55,304.91 102.62,304.66C102.69,304.41 102.96,304.29 103.11,304.09C103.26,303.89 103.35,303.54 103.52,303.45C103.68,303.35 103.90,303.54 104.10,303.52C104.30,303.50 104.55,303.22 104.72,303.32C104.88,303.41 104.96,303.86 105.08,304.10C105.20,304.34 105.35,304.52 105.41,304.77C105.48,305.02 105.46,305.30 105.49,305.60Z" fill="#f01818"/>
<ellipse cx="107.0" cy="306.4" rx="1.6" ry="1.2" fill="#f01818"/>
</g>
</g>
<g clip-path="url(#pc10)">
<g filter="url(#fz)">
<path d="M147.00,315.00C147.23,316.17 148.17,319.50 148.40,322.00C148.63,324.50 148.73,327.00 148.40,330.00C148.07,333.00 147.17,336.78 146.40,340.00C145.63,343.22 144.23,347.75 143.80,349.30" fill="none" stroke="#d3d9d7" stroke-width="1.7" stroke-linecap="round"/>
<path d="M135.40,314.00C135.30,314.75 134.93,317.10 134.80,318.50C134.67,319.90 134.63,321.75 134.60,322.40" fill="none" stroke="#dfe3e2" stroke-width="2.3" stroke-linecap="round"/>
<path d="M152.00,313.40C152.43,313.07 153.73,311.93 154.60,311.40C155.47,310.87 156.77,310.40 157.20,310.20" fill="none" stroke="#dfe3e2" stroke-width="2.3" stroke-linecap="round"/>
<path d="M149.60,273.60C150.00,273.43 151.37,272.93 152.00,272.60C152.63,272.27 153.17,271.77 153.40,271.60" fill="none" stroke="#dfe3e2" stroke-width="2.3" stroke-linecap="round"/>
<path d="M140.20,251.00C140.84,251.00 141.61,251.00 142.13,251.19C142.66,251.39 143.02,251.71 143.35,252.16C143.68,252.62 143.89,253.19 144.11,253.91C144.33,254.63 144.45,255.62 144.66,256.49C144.86,257.36 145.07,258.33 145.34,259.14C145.61,259.95 145.91,260.65 146.25,261.34C146.59,262.03 146.97,262.54 147.38,263.27C147.79,264.01 148.66,264.95 148.71,265.73C148.75,266.50 147.57,267.15 147.66,267.93C147.75,268.70 148.92,269.49 149.23,270.38C149.54,271.27 149.03,271.35 149.54,273.29C150.06,275.23 151.77,279.05 152.32,282.01C152.87,284.97 152.71,287.82 152.82,291.05C152.93,294.28 153.05,298.37 152.98,301.39C152.91,304.40 152.99,307.04 152.38,309.14C151.77,311.24 151.20,312.91 149.33,313.99C147.47,315.06 143.92,315.60 141.20,315.60C138.48,315.60 134.91,315.06 133.01,313.99C131.12,312.91 130.49,311.24 129.82,309.14C129.15,307.04 129.15,304.40 128.98,301.39C128.81,298.37 128.81,294.28 128.82,291.05C128.83,287.82 128.59,284.97 129.04,282.01C129.49,279.05 131.09,275.23 131.54,273.29C132.00,271.35 131.48,271.27 131.77,270.38C132.06,269.49 133.20,268.70 133.26,267.93C133.32,267.15 132.13,266.50 132.15,265.73C132.17,264.95 133.01,264.01 133.40,263.27C133.79,262.54 134.15,262.03 134.47,261.34C134.79,260.65 135.07,259.95 135.31,259.14C135.55,258.33 135.74,257.36 135.91,256.49C136.09,255.62 136.19,254.63 136.38,253.91C136.58,253.19 136.77,252.62 137.09,252.16C137.40,251.71 137.75,251.39 138.27,251.19C138.79,251.00 139.56,251.00 140.20,251.00Z" fill="url(#mg10)" filter="url(#fur)"/>
<ellipse cx="140.2" cy="256.2" rx="7.5" ry="11.0" fill="url(#hg)" clip-path="url(#bc10)"/>
<ellipse cx="140.2" cy="253.3" rx="2.3" ry="1.3" fill="#6f8580" opacity="0.8"/>
<ellipse cx="140.2" cy="257.5" rx="1.6" ry="2.0" fill="#cfdad7" opacity="0.7"/>
<path d="M139.3,270.3 q-1.5,4 -5.2,7.4 M141.7,270.3 q1.5,4 5.2,7.4 M135.0,269.3 q-2.5,-3.5 -0.8,-7 M146.0,269.3 q2.5,-3.5 0.8,-7" fill="none" stroke="#a4adab" stroke-width="0.9" opacity="0.8"/>
</g>
<g filter="url(#fz2)" clip-path="url(#mc10)">
<path d="M141.17,292.80C141.22,293.24 141.39,293.81 141.18,294.16C140.97,294.51 140.28,294.66 139.91,294.91C139.53,295.17 139.30,295.47 138.92,295.72C138.53,295.96 138.06,296.37 137.60,296.40C137.14,296.44 136.57,296.19 136.18,295.95C135.78,295.71 135.54,295.28 135.24,294.96C134.94,294.64 134.63,294.38 134.37,294.02C134.12,293.66 133.74,293.21 133.73,292.80C133.72,292.39 134.05,291.90 134.31,291.55C134.57,291.20 134.99,291.03 135.29,290.69C135.59,290.35 135.73,289.67 136.11,289.51C136.50,289.35 137.12,289.72 137.60,289.74C138.08,289.77 138.58,289.55 139.02,289.67C139.45,289.78 139.89,290.10 140.21,290.41C140.52,290.72 140.74,291.15 140.90,291.55C141.06,291.95 141.12,292.36 141.17,292.80Z" fill="#5a36ec"/>
<path d="M150.28,301.80C150.29,302.35 150.02,302.96 149.75,303.47C149.47,303.97 149.03,304.35 148.63,304.84C148.23,305.32 147.93,306.13 147.35,306.40C146.78,306.67 145.90,306.50 145.20,306.47C144.50,306.44 143.75,306.44 143.13,306.21C142.52,305.98 141.92,305.54 141.48,305.09C141.05,304.64 140.80,304.07 140.51,303.52C140.22,302.97 139.79,302.38 139.76,301.80C139.73,301.22 140.06,300.59 140.32,300.01C140.58,299.44 140.85,298.80 141.32,298.36C141.79,297.93 142.50,297.66 143.15,297.41C143.79,297.17 144.53,296.86 145.20,296.89C145.87,296.92 146.60,297.29 147.17,297.60C147.74,297.92 148.21,298.34 148.62,298.77C149.04,299.20 149.39,299.66 149.67,300.16C149.94,300.67 150.26,301.25 150.28,301.80Z" fill="#5a36ec"/>
<path d="M144.23,300.23C143.91,300.47 143.34,300.40 142.92,300.49C142.51,300.58 142.15,300.81 141.73,300.79C141.32,300.77 140.87,300.54 140.42,300.37C139.97,300.20 139.41,300.09 139.03,299.77C138.65,299.45 138.39,298.93 138.14,298.47C137.90,298.01 137.55,297.46 137.57,297.02C137.59,296.59 138.08,296.25 138.27,295.86C138.45,295.47 138.42,294.94 138.69,294.69C138.95,294.43 139.48,294.41 139.88,294.31C140.27,294.20 140.64,294.06 141.07,294.05C141.50,294.04 142.04,294.03 142.44,294.25C142.83,294.47 143.13,294.99 143.45,295.35C143.77,295.71 144.09,296.03 144.36,296.43C144.62,296.83 144.98,297.32 145.06,297.76C145.14,298.21 144.98,298.68 144.84,299.10C144.71,299.51 144.55,300.00 144.23,300.23Z" fill="#5a36ec"/>
<ellipse cx="150.2" cy="293.4" rx="2.2" ry="2.4" fill="#5a36ec"/>
<ellipse cx="139.2" cy="297.4" rx="2.4" ry="2.0" fill="#5a36ec"/>
</g>
</g>
<g clip-path="url(#pc11)">
<g filter="url(#fz)">
<path d="M181.60,313.60C181.90,314.67 182.80,317.77 183.40,320.00C184.00,322.23 184.33,324.33 185.20,327.00C186.07,329.67 187.27,333.10 188.60,336.00C189.93,338.90 192.43,343.00 193.20,344.40" fill="none" stroke="#d3d9d7" stroke-width="1.7" stroke-linecap="round"/>
<path d="M172.60,313.40C172.10,313.83 170.63,315.20 169.60,316.00C168.57,316.80 166.93,317.83 166.40,318.20" fill="none" stroke="#dfe3e2" stroke-width="2.3" stroke-linecap="round"/>
<path d="M188.60,310.50C188.97,311.08 190.35,312.72 190.80,314.00C191.25,315.28 191.22,317.50 191.30,318.20" fill="none" stroke="#dfe3e2" stroke-width="2.3" stroke-linecap="round"/>
<path d="M178.00,254.90C178.64,254.90 179.41,254.90 179.93,255.08C180.46,255.25 180.81,255.55 181.14,255.96C181.46,256.38 181.67,256.90 181.88,257.56C182.09,258.22 182.21,259.13 182.40,259.92C182.60,260.72 182.81,261.61 183.06,262.35C183.32,263.09 183.62,263.73 183.95,264.36C184.29,264.99 184.66,265.46 185.07,266.13C185.47,266.80 186.17,267.67 186.37,268.37C186.57,269.08 185.99,269.68 186.26,270.38C186.54,271.09 187.67,271.81 188.01,272.63C188.36,273.45 187.87,273.52 188.34,275.29C188.80,277.06 190.32,280.56 190.80,283.27C191.29,285.98 191.16,288.59 191.25,291.54C191.33,294.50 191.42,298.24 191.31,301.00C191.20,303.76 191.26,306.17 190.58,308.09C189.90,310.01 189.26,311.54 187.23,312.52C185.20,313.51 181.35,314.00 178.40,314.00C175.45,314.00 171.59,313.51 169.55,312.52C167.51,311.54 166.85,310.01 166.14,308.09C165.43,306.17 165.46,303.76 165.31,301.00C165.16,298.24 165.20,294.50 165.25,291.54C165.29,288.59 165.13,285.98 165.58,283.27C166.03,280.56 167.50,277.06 167.94,275.29C168.38,273.52 167.89,273.45 168.23,272.63C168.56,271.81 169.68,271.09 169.94,270.38C170.21,269.68 169.62,269.08 169.81,268.37C170.00,267.67 170.69,266.80 171.08,266.13C171.48,265.46 171.85,264.99 172.18,264.36C172.50,263.73 172.79,263.09 173.04,262.35C173.28,261.61 173.48,260.72 173.66,259.92C173.85,259.13 173.95,258.22 174.15,257.56C174.36,256.90 174.56,256.38 174.88,255.96C175.20,255.55 175.55,255.25 176.07,255.08C176.59,254.90 177.36,254.90 178.00,254.90Z" fill="url(#mg11)" filter="url(#fur)"/>
<ellipse cx="178.0" cy="259.6" rx="7.5" ry="10.0" fill="url(#hg)" clip-path="url(#bc11)"/>
<ellipse cx="178.0" cy="257.0" rx="2.3" ry="1.3" fill="#6f8580" opacity="0.8"/>
<ellipse cx="178.0" cy="260.8" rx="1.6" ry="2.0" fill="#cfdad7" opacity="0.7"/>
<path d="M176.9,272.4 q-1.5,4 -5.2,7.4 M179.3,272.4 q1.5,4 5.2,7.4 M172.6,271.4 q-2.5,-3.5 -0.8,-7 M183.6,271.4 q2.5,-3.5 0.8,-7" fill="none" stroke="#a4adab" stroke-width="0.9" opacity="0.8"/>
</g>
<g filter="url(#fz2)" clip-path="url(#mc11)">
<path d="M187.85,291.60C187.89,292.11 188.09,292.73 187.94,293.18C187.79,293.62 187.29,293.92 186.97,294.27C186.64,294.62 186.37,295.03 185.99,295.27C185.62,295.51 185.14,295.68 184.70,295.71C184.26,295.74 183.74,295.69 183.34,295.47C182.94,295.25 182.61,294.80 182.31,294.41C182.02,294.02 181.69,293.60 181.56,293.13C181.43,292.66 181.56,292.11 181.56,291.60C181.57,291.09 181.46,290.55 181.59,290.09C181.72,289.62 182.06,289.23 182.34,288.83C182.63,288.43 182.93,287.91 183.33,287.70C183.72,287.49 184.25,287.56 184.70,287.57C185.15,287.58 185.66,287.55 186.05,287.75C186.45,287.96 186.81,288.40 187.08,288.80C187.35,289.20 187.55,289.68 187.68,290.15C187.81,290.62 187.81,291.09 187.85,291.60Z" fill="#5a36ec"/>
<path d="M176.75,299.20C176.77,299.58 176.70,299.98 176.57,300.36C176.44,300.73 176.28,301.20 175.97,301.44C175.66,301.69 175.11,301.72 174.70,301.83C174.29,301.93 173.89,302.08 173.50,302.07C173.11,302.06 172.70,301.91 172.33,301.76C171.97,301.62 171.58,301.44 171.31,301.19C171.04,300.94 170.85,300.59 170.69,300.26C170.54,299.93 170.42,299.57 170.38,299.20C170.34,298.83 170.34,298.43 170.44,298.05C170.54,297.67 170.69,297.20 170.98,296.91C171.28,296.63 171.78,296.45 172.20,296.34C172.62,296.23 173.08,296.24 173.50,296.26C173.92,296.28 174.34,296.34 174.74,296.47C175.14,296.60 175.62,296.74 175.90,297.01C176.19,297.28 176.32,297.72 176.46,298.08C176.61,298.45 176.73,298.82 176.75,299.20Z" fill="#5a36ec"/>
<ellipse cx="177.2" cy="297.6" rx="2.3" ry="2.1" fill="#5a36ec"/>
<ellipse cx="186.2" cy="294.8" rx="1.6" ry="1.4" fill="#5a36ec"/>
</g>
</g>
<text transform="translate(1.9,11.4) scale(0.97,1)" font-size="15" font-weight="bold">A</text>
<text transform="translate(70.00,10.70) scale(0.950,1)" font-size="12.60" text-anchor="middle" font-weight="normal" >Day -5</text>
<text transform="translate(106.20,10.70) scale(0.950,1)" font-size="12.60" text-anchor="middle" font-weight="normal" >0</text>
<text transform="translate(142.00,10.70) scale(0.950,1)" font-size="12.60" text-anchor="middle" font-weight="normal" >+7</text>
<text transform="translate(178.20,10.70) scale(0.950,1)" font-size="12.60" text-anchor="middle" font-weight="normal" >+14</text>
<path d="M1.2,116.6 V123.3 H43.5 V116.6" fill="none" stroke="#555" stroke-width="0.7"/>
<text transform="translate(21.20,122.00) scale(1.000,1)" font-size="5.00" text-anchor="middle" font-weight="normal" fill="#222">p/sec/cm<tspan dy="-1.6" font-size="3.2">2</tspan><tspan dy="1.6">/sr</tspan></text>
<linearGradient id="cb" x1="0" y1="0" x2="0" y2="1">
<stop offset="0" stop-color="#f00808"/><stop offset="0.1" stop-color="#ff5a00"/><stop offset="0.2" stop-color="#ffd000"/><stop offset="0.27" stop-color="#e8f000"/>
<stop offset="0.42" stop-color="#50e020"/><stop offset="0.58" stop-color="#20e050"/><stop offset="0.7" stop-color="#20d8c8"/><stop offset="0.8" stop-color="#2080f0"/><stop offset="0.9" stop-color="#2030f8"/><stop offset="1" stop-color="#4020e0"/></linearGradient>
<rect x="1.6" y="126.6" width="7.4" height="91.4" fill="url(#cb)"/>
<path d="M9.1,126.6 V218" stroke="#444" stroke-width="0.5" fill="none"/>
<path d="M9.0,127.2 h2.4" stroke="#333" stroke-width="0.6"/>
<text transform="translate(14.60,128.70) scale(1.000,1)" font-size="5.20" text-anchor="start" font-weight="normal" fill="#222">10</text>
<path d="M9.0,145.6 h2.4" stroke="#333" stroke-width="0.6"/>
<text transform="translate(14.60,147.10) scale(1.000,1)" font-size="5.20" text-anchor="start" font-weight="normal" fill="#222">8</text>
<path d="M9.0,163.8 h2.4" stroke="#333" stroke-width="0.6"/>
<text transform="translate(14.60,165.30) scale(1.000,1)" font-size="5.20" text-anchor="start" font-weight="normal" fill="#222">6</text>
<path d="M9.0,182.0 h2.4" stroke="#333" stroke-width="0.6"/>
<text transform="translate(14.60,183.50) scale(1.000,1)" font-size="5.20" text-anchor="start" font-weight="normal" fill="#222">4</text>
<path d="M9.0,200.0 h2.4" stroke="#333" stroke-width="0.6"/>
<text transform="translate(14.60,201.50) scale(1.000,1)" font-size="5.20" text-anchor="start" font-weight="normal" fill="#222">2</text>
<path d="M9.0,136.8 h1.4" stroke="#333" stroke-width="0.5"/>
<path d="M9.0,154.7 h1.4" stroke="#333" stroke-width="0.5"/>
<path d="M9.0,172.9 h1.4" stroke="#333" stroke-width="0.5"/>
<path d="M9.0,191.0 h1.4" stroke="#333" stroke-width="0.5"/>
<path d="M9.0,209.0 h1.4" stroke="#333" stroke-width="0.5"/>
<text transform="translate(24.8,166.8) rotate(90)" font-size="4.8" fill="#333">x10<tspan dy="1.5" font-size="3.2">6</tspan></text>
<rect x="1.0" y="221.0" width="31" height="19.2" fill="#fff" stroke="#666" stroke-width="0.7"/>
<text transform="translate(16.50,226.90) scale(1.000,1)" font-size="4.60" text-anchor="middle" font-weight="normal" fill="#333">Color Bar</text>
<text transform="translate(16.50,232.60) scale(1.000,1)" font-size="4.60" text-anchor="middle" font-weight="normal" fill="#333">Min = 100000</text>
<text transform="translate(16.50,238.40) scale(1.000,1)" font-size="4.60" text-anchor="middle" font-weight="normal" fill="#333">Max = 1e+07</text>
<text transform="translate(209.2,11.9) scale(0.97,1)" font-size="15.2" font-weight="bold">B</text>
<path d="M251.8,23.2 V144.2 M251.8,144.2 H487.0" stroke="#222" stroke-width="0.8" fill="none"/>
<path d="M251.8,144.2 h-2.6" stroke="#222" stroke-width="0.8"/>
<text transform="translate(246.20,147.30) scale(0.940,1)" font-size="8.30" text-anchor="end" font-weight="normal" >0</text>
<path d="M251.8,124.1 h-2.6" stroke="#222" stroke-width="0.8"/>
<text transform="translate(246.20,127.20) scale(0.940,1)" font-size="8.30" text-anchor="end" font-weight="normal" >1</text>
<path d="M251.8,104.0 h-2.6" stroke="#222" stroke-width="0.8"/>
<text transform="translate(246.20,107.10) scale(0.940,1)" font-size="8.30" text-anchor="end" font-weight="normal" >2</text>
<path d="M251.8,83.9 h-2.6" stroke="#222" stroke-width="0.8"/>
<text transform="translate(246.20,87.00) scale(0.940,1)" font-size="8.30" text-anchor="end" font-weight="normal" >3</text>
<path d="M251.8,63.8 h-2.6" stroke="#222" stroke-width="0.8"/>
<text transform="translate(246.20,66.90) scale(0.940,1)" font-size="8.30" text-anchor="end" font-weight="normal" >4</text>
<path d="M251.8,43.7 h-2.6" stroke="#222" stroke-width="0.8"/>
<text transform="translate(246.20,46.80) scale(0.940,1)" font-size="8.30" text-anchor="end" font-weight="normal" >5</text>
<path d="M251.8,23.6 h-2.6" stroke="#222" stroke-width="0.8"/>
<text transform="translate(246.20,26.70) scale(0.940,1)" font-size="8.30" text-anchor="end" font-weight="normal" >6</text>
<path d="M251.8,144.2 v2.6" stroke="#222" stroke-width="0.8"/>
<path d="M275.3,144.2 v2.6" stroke="#222" stroke-width="0.8"/>
<path d="M298.8,144.2 v2.6" stroke="#222" stroke-width="0.8"/>
<path d="M322.3,144.2 v2.6" stroke="#222" stroke-width="0.8"/>
<path d="M345.8,144.2 v2.6" stroke="#222" stroke-width="0.8"/>
<path d="M369.3,144.2 v2.6" stroke="#222" stroke-width="0.8"/>
<path d="M392.8,144.2 v2.6" stroke="#222" stroke-width="0.8"/>
<path d="M416.3,144.2 v2.6" stroke="#222" stroke-width="0.8"/>
<path d="M439.8,144.2 v2.6" stroke="#222" stroke-width="0.8"/>
<path d="M463.3,144.2 v2.6" stroke="#222" stroke-width="0.8"/>
<path d="M486.8,144.2 v2.6" stroke="#222" stroke-width="0.8"/>
<text transform="translate(264.40,157.60) scale(0.940,1)" font-size="8.30" text-anchor="middle" font-weight="normal" >-5</text>
<text transform="translate(284.90,157.60) scale(0.940,1)" font-size="8.30" text-anchor="middle" font-weight="normal" >0</text>
<text transform="translate(311.00,157.60) scale(0.940,1)" font-size="8.30" text-anchor="middle" font-weight="normal" >2</text>
<text transform="translate(336.30,157.60) scale(0.940,1)" font-size="8.30" text-anchor="middle" font-weight="normal" >4</text>
<text transform="translate(357.00,157.60) scale(0.940,1)" font-size="8.30" text-anchor="middle" font-weight="normal" >7</text>
<text transform="translate(383.00,157.60) scale(0.940,1)" font-size="8.30" text-anchor="middle" font-weight="normal" >10</text>
<text transform="translate(405.40,157.60) scale(0.940,1)" font-size="8.30" text-anchor="middle" font-weight="normal" >14</text>
<text transform="translate(428.60,157.60) scale(0.940,1)" font-size="8.30" text-anchor="middle" font-weight="normal" >18</text>
<text transform="translate(451.60,157.60) scale(0.940,1)" font-size="8.30" text-anchor="middle" font-weight="normal" >25</text>
<text transform="translate(367.00,170.50) scale(0.940,1)" font-size="8.30" text-anchor="middle" font-weight="normal" >Days after T cell transfer</text>
<text transform="translate(237.0,118.0) rotate(-90) scale(0.94,1)" font-size="8.15">p/sec/cm<tspan dy="-3" font-size="5.4">2</tspan><tspan dy="3">/sr x 10</tspan><tspan dy="-3" font-size="5.4">6</tspan></text>
<path d="M263.3,139.2 V132.7 M261.1,132.7 h4.4" stroke="#222" stroke-width="0.8" fill="none"/>
<path d="M286.8,108.0 V87.9 M284.6,87.9 h4.4" stroke="#222" stroke-width="0.8" fill="none"/>
<path d="M310.3,113.4 V95.2 M308.1,95.2 h4.4" stroke="#222" stroke-width="0.8" fill="none"/>
<path d="M333.8,124.1 V115.3 M331.6,115.3 h4.4" stroke="#222" stroke-width="0.8" fill="none"/>
<path d="M357.3,133.9 V127.5 M355.1,127.5 h4.4" stroke="#222" stroke-width="0.8" fill="none"/>
<path d="M380.8,134.6 V127.5 M378.6,127.5 h4.4" stroke="#222" stroke-width="0.8" fill="none"/>
<path d="M404.3,132.1 V127.5 M402.1,127.5 h4.4" stroke="#222" stroke-width="0.8" fill="none"/>
<path d="M427.8,135.4 V129.5 M425.6,129.5 h4.4" stroke="#222" stroke-width="0.8" fill="none"/>
<path d="M451.3,135.4 V128.1 M449.1,128.1 h4.4" stroke="#222" stroke-width="0.8" fill="none"/>
<path d="M263.3,137.0 V127.1 M261.1,127.1 h4.4" stroke="#222" stroke-width="0.8" fill="none"/>
<path d="M286.8,110.0 V90.5 M284.6,90.5 h4.4" stroke="#222" stroke-width="0.8" fill="none"/>

<path d="M333.8,128.1 V109.2 M331.6,109.2 h4.4" stroke="#222" stroke-width="0.8" fill="none"/>






<path d="M286.8,116.1 V84.9 M284.6,84.9 h4.4" stroke="#222" stroke-width="0.8" fill="none"/>
<path d="M310.3,107.4 V79.9 M308.1,79.9 h4.4" stroke="#222" stroke-width="0.8" fill="none"/>
<path d="M333.8,99.4 V82.1 M331.6,82.1 h4.4" stroke="#222" stroke-width="0.8" fill="none"/>
<path d="M357.3,92.7 V78.9 M355.1,78.9 h4.4" stroke="#222" stroke-width="0.8" fill="none"/>
<path d="M380.8,73.0 V47.3 M378.6,47.3 h4.4" stroke="#222" stroke-width="0.8" fill="none"/>
<path d="M404.3,67.8 V44.3 M402.1,44.3 h4.4" stroke="#222" stroke-width="0.8" fill="none"/>
<polyline points="263.3,139.2 286.8,108.0 310.3,113.4 333.8,124.1 357.3,133.9 380.8,134.6 404.3,132.1 427.8,135.4 451.3,135.4" fill="none" stroke="#1a1a1a" stroke-width="0.8"/>
<polyline points="263.3,137.0 286.8,110.0 310.3,126.3 333.8,128.1 357.3,137.8 380.8,143.6 404.3,143.2 427.8,142.8 451.3,142.2" fill="none" stroke="#1a1a1a" stroke-width="0.8"/>
<polyline points="263.3,141.8 286.8,116.1 310.3,107.4 333.8,99.4 357.3,92.7 380.8,73.0 404.3,67.8" fill="none" stroke="#1a1a1a" stroke-width="0.8"/>
<path d="M263.3,136.7 l2.5,2.5 l-2.5,2.5 l-2.5,-2.5 Z" fill="#0a0a0a"/>
<path d="M286.8,105.5 l2.5,2.5 l-2.5,2.5 l-2.5,-2.5 Z" fill="#0a0a0a"/>
<path d="M310.3,110.9 l2.5,2.5 l-2.5,2.5 l-2.5,-2.5 Z" fill="#0a0a0a"/>
<path d="M333.8,121.6 l2.5,2.5 l-2.5,2.5 l-2.5,-2.5 Z" fill="#0a0a0a"/>
<path d="M357.3,131.4 l2.5,2.5 l-2.5,2.5 l-2.5,-2.5 Z" fill="#0a0a0a"/>
<path d="M380.8,132.1 l2.5,2.5 l-2.5,2.5 l-2.5,-2.5 Z" fill="#0a0a0a"/>
<path d="M404.3,129.6 l2.5,2.5 l-2.5,2.5 l-2.5,-2.5 Z" fill="#0a0a0a"/>
<path d="M427.8,132.9 l2.5,2.5 l-2.5,2.5 l-2.5,-2.5 Z" fill="#0a0a0a"/>
<path d="M451.3,132.9 l2.5,2.5 l-2.5,2.5 l-2.5,-2.5 Z" fill="#0a0a0a"/>
<rect x="261.0" y="134.7" width="4.6" height="4.6" fill="#0a0a0a"/>
<rect x="284.5" y="107.7" width="4.6" height="4.6" fill="#0a0a0a"/>
<rect x="308.0" y="124.0" width="4.6" height="4.6" fill="#0a0a0a"/>
<rect x="331.5" y="125.8" width="4.6" height="4.6" fill="#0a0a0a"/>
<rect x="355.0" y="135.5" width="4.6" height="4.6" fill="#0a0a0a"/>
<rect x="378.5" y="141.3" width="4.6" height="4.6" fill="#0a0a0a"/>
<rect x="402.0" y="140.9" width="4.6" height="4.6" fill="#0a0a0a"/>
<rect x="425.5" y="140.5" width="4.6" height="4.6" fill="#0a0a0a"/>
<rect x="449.0" y="139.9" width="4.6" height="4.6" fill="#0a0a0a"/>
<path d="M263.3,139.1 l3.3,6.3 h-6.6 Z" fill="#0a0a0a"/>
<path d="M286.8,113.4 l3.3,6.3 h-6.6 Z" fill="#0a0a0a"/>
<path d="M310.3,104.7 l3.3,6.3 h-6.6 Z" fill="#0a0a0a"/>
<path d="M333.8,96.7 l3.3,6.3 h-6.6 Z" fill="#0a0a0a"/>
<path d="M357.3,90.0 l3.3,6.3 h-6.6 Z" fill="#0a0a0a"/>
<path d="M380.8,70.3 l3.3,6.3 h-6.6 Z" fill="#0a0a0a"/>
<path d="M404.3,65.1 l3.3,6.3 h-6.6 Z" fill="#0a0a0a"/>
<path d="M265.6,28.3 H281.8" stroke="#1a1a1a" stroke-width="0.8"/>
<path d="M273.6,25.8 l2.5,2.5 l-2.5,2.5 l-2.5,-2.5 Z" fill="#0a0a0a"/>
<text transform="translate(290.40,30.00) scale(0.905,1)" font-size="8.30" text-anchor="start" font-weight="normal" >CAR46&#950;</text>
<path d="M265.6,41.8 H281.8" stroke="#1a1a1a" stroke-width="0.8"/>
<rect x="271.3" y="39.5" width="4.6" height="4.6" fill="#0a0a0a"/>
<text transform="translate(290.40,43.50) scale(0.905,1)" font-size="8.30" text-anchor="start" font-weight="normal" >CAR46/28&#950;</text>
<path d="M265.6,55.0 H281.8" stroke="#1a1a1a" stroke-width="0.8"/>
<path d="M273.6,52.1 l3.3,6.3 h-6.6 Z" fill="#0a0a0a"/>
<text transform="translate(290.40,56.70) scale(0.905,1)" font-size="8.30" text-anchor="start" font-weight="normal" >Control T cells</text>
<text transform="translate(209.6,191.7) scale(0.97,1)" font-size="15.4" font-weight="bold">C</text>
<path d="M230.6,197.1 V289.9 M230.6,289.9 H356.5" stroke="#222" stroke-width="0.75" fill="none"/>
<path d="M230.6,289.9 h-1.4" stroke="#222" stroke-width="0.6"/>
<text transform="translate(227.40,293.60) scale(0.940,1)" font-size="8.30" text-anchor="end" font-weight="normal" >0</text>
<path d="M230.6,271.8 h-1.4" stroke="#222" stroke-width="0.6"/>
<text transform="translate(227.40,275.45) scale(0.940,1)" font-size="8.30" text-anchor="end" font-weight="normal" >1</text>
<path d="M230.6,253.6 h-1.4" stroke="#222" stroke-width="0.6"/>
<text transform="translate(227.40,257.30) scale(0.940,1)" font-size="8.30" text-anchor="end" font-weight="normal" >2</text>
<path d="M230.6,235.4 h-1.4" stroke="#222" stroke-width="0.6"/>
<text transform="translate(227.40,239.15) scale(0.940,1)" font-size="8.30" text-anchor="end" font-weight="normal" >3</text>
<path d="M230.6,217.3 h-1.4" stroke="#222" stroke-width="0.6"/>
<text transform="translate(227.40,221.00) scale(0.940,1)" font-size="8.30" text-anchor="end" font-weight="normal" >4</text>
<path d="M230.6,199.1 h-1.4" stroke="#222" stroke-width="0.6"/>
<text transform="translate(227.40,202.85) scale(0.940,1)" font-size="8.30" text-anchor="end" font-weight="normal" >5</text>
<rect x="232.45" y="236.97" width="3.25" height="52.93" fill="#c8c8c8" stroke="#777" stroke-width="0.5"/>
<rect x="235.95" y="277.56" width="3.75" height="12.34" fill="#0a0a0a"/>
<rect x="243.78" y="245.32" width="3.25" height="44.58" fill="#c8c8c8" stroke="#777" stroke-width="0.5"/>
<rect x="247.28" y="266.49" width="3.75" height="23.41" fill="#0a0a0a"/>
<rect x="255.11" y="260.57" width="3.25" height="29.33" fill="#c8c8c8" stroke="#777" stroke-width="0.5"/>
<rect x="258.61" y="279.19" width="3.75" height="10.71" fill="#0a0a0a"/>
<rect x="266.44" y="269.46" width="3.25" height="20.44" fill="#c8c8c8" stroke="#777" stroke-width="0.5"/>
<rect x="269.94" y="266.49" width="3.75" height="23.41" fill="#0a0a0a"/>
<rect x="277.77" y="273.27" width="3.25" height="16.63" fill="#c8c8c8" stroke="#777" stroke-width="0.5"/>
<rect x="281.27" y="285.54" width="3.75" height="4.36" fill="#0a0a0a"/>
<rect x="300.43" y="252.40" width="3.25" height="37.50" fill="#c8c8c8" stroke="#777" stroke-width="0.5"/>
<rect x="303.93" y="252.87" width="3.75" height="37.03" fill="#0a0a0a"/>
<rect x="311.76" y="259.66" width="3.25" height="30.24" fill="#c8c8c8" stroke="#777" stroke-width="0.5"/>
<rect x="315.26" y="254.33" width="3.75" height="35.57" fill="#0a0a0a"/>
<rect x="323.09" y="285.79" width="3.25" height="4.11" fill="#c8c8c8" stroke="#777" stroke-width="0.5"/>
<rect x="326.59" y="237.81" width="3.75" height="52.09" fill="#0a0a0a"/>
<rect x="334.42" y="275.63" width="3.25" height="14.27" fill="#c8c8c8" stroke="#777" stroke-width="0.5"/>
<rect x="337.92" y="263.95" width="3.75" height="25.95" fill="#0a0a0a"/>
<rect x="345.75" y="266.37" width="3.25" height="23.53" fill="#c8c8c8" stroke="#777" stroke-width="0.5"/>
<rect x="349.25" y="267.76" width="3.75" height="22.14" fill="#0a0a0a"/>
<text transform="translate(260.50,304.60) scale(0.940,1)" font-size="8.30" text-anchor="middle" font-weight="normal" >CAR46&#950;</text>
<text transform="translate(260.50,315.60) scale(0.940,1)" font-size="8.30" text-anchor="middle" font-weight="normal" >no Igs</text>
<text transform="translate(326.80,304.60) scale(0.940,1)" font-size="8.30" text-anchor="middle" font-weight="normal" >CAR46&#950;</text>
<text transform="translate(326.80,315.60) scale(0.940,1)" font-size="8.30" text-anchor="middle" font-weight="normal" >plus Igs</text>
<rect x="309.8" y="204.8" width="5.3" height="5.2" fill="#858585"/>
<rect x="309.8" y="212.4" width="5.3" height="5.3" fill="#0a0a0a"/>
<text transform="translate(319.70,209.50) scale(0.940,1)" font-size="8.30" text-anchor="start" font-weight="normal" >Day 0</text>
<text transform="translate(319.70,218.70) scale(0.940,1)" font-size="8.30" text-anchor="start" font-weight="normal" >Day +10</text>
<text transform="translate(218.2,274.0) rotate(-90) scale(0.94,1)" font-size="8.5">p/sec/cm<tspan dy="-3" font-size="5.4">2</tspan><tspan dy="3">/sr x 10</tspan><tspan dy="-3" font-size="5.4">6</tspan></text>
<path d="M392.6,197.1 V289.9 M392.6,289.9 H518.5" stroke="#222" stroke-width="0.75" fill="none"/>
<path d="M392.6,289.9 h-1.4" stroke="#222" stroke-width="0.6"/>
<text transform="translate(387.10,293.60) scale(0.940,1)" font-size="8.30" text-anchor="end" font-weight="normal" >0</text>
<path d="M392.6,271.8 h-1.4" stroke="#222" stroke-width="0.6"/>
<text transform="translate(387.10,275.45) scale(0.940,1)" font-size="8.30" text-anchor="end" font-weight="normal" >1</text>
<path d="M392.6,253.6 h-1.4" stroke="#222" stroke-width="0.6"/>
<text transform="translate(387.10,257.30) scale(0.940,1)" font-size="8.30" text-anchor="end" font-weight="normal" >2</text>
<path d="M392.6,235.4 h-1.4" stroke="#222" stroke-width="0.6"/>
<text transform="translate(387.10,239.15) scale(0.940,1)" font-size="8.30" text-anchor="end" font-weight="normal" >3</text>
<path d="M392.6,217.3 h-1.4" stroke="#222" stroke-width="0.6"/>
<text transform="translate(387.10,221.00) scale(0.940,1)" font-size="8.30" text-anchor="end" font-weight="normal" >4</text>
<path d="M392.6,199.1 h-1.4" stroke="#222" stroke-width="0.6"/>
<text transform="translate(387.10,202.85) scale(0.940,1)" font-size="8.30" text-anchor="end" font-weight="normal" >5</text>
<rect x="395.15" y="202.49" width="3.25" height="87.41" fill="#c8c8c8" stroke="#777" stroke-width="0.5"/>
<rect x="398.65" y="249.79" width="3.75" height="40.11" fill="#0a0a0a"/>
<rect x="406.65" y="223.72" width="3.25" height="66.18" fill="#c8c8c8" stroke="#777" stroke-width="0.5"/>
<rect x="410.15" y="280.64" width="3.75" height="9.26" fill="#0a0a0a"/>
<rect x="418.15" y="254.58" width="3.25" height="35.32" fill="#c8c8c8" stroke="#777" stroke-width="0.5"/>
<rect x="421.65" y="287.72" width="3.75" height="2.18" fill="#0a0a0a"/>
<rect x="429.65" y="249.13" width="3.25" height="40.77" fill="#c8c8c8" stroke="#777" stroke-width="0.5"/>
<rect x="433.15" y="289.36" width="3.75" height="0.54" fill="#0a0a0a"/>
<rect x="441.15" y="275.63" width="3.25" height="14.27" fill="#c8c8c8" stroke="#777" stroke-width="0.5"/>
<rect x="444.65" y="289.54" width="3.75" height="0.36" fill="#0a0a0a"/>
<rect x="464.15" y="236.97" width="3.25" height="52.93" fill="#c8c8c8" stroke="#777" stroke-width="0.5"/>
<rect x="467.65" y="283.18" width="3.75" height="6.72" fill="#0a0a0a"/>
<rect x="475.65" y="239.15" width="3.25" height="50.75" fill="#c8c8c8" stroke="#777" stroke-width="0.5"/>
<rect x="479.15" y="273.75" width="3.75" height="16.15" fill="#0a0a0a"/>
<rect x="487.15" y="275.63" width="3.25" height="14.27" fill="#c8c8c8" stroke="#777" stroke-width="0.5"/>
<rect x="490.65" y="286.09" width="3.75" height="3.81" fill="#0a0a0a"/>
<rect x="498.65" y="270.19" width="3.25" height="19.71" fill="#c8c8c8" stroke="#777" stroke-width="0.5"/>
<rect x="502.15" y="286.27" width="3.75" height="3.63" fill="#0a0a0a"/>
<rect x="510.15" y="278.72" width="3.25" height="11.18" fill="#c8c8c8" stroke="#777" stroke-width="0.5"/>
<rect x="513.65" y="286.81" width="3.75" height="3.09" fill="#0a0a0a"/>
<text transform="translate(420.10,304.60) scale(0.940,1)" font-size="8.30" text-anchor="middle" font-weight="normal" >CAR46/28&#950;</text>
<text transform="translate(420.10,315.60) scale(0.940,1)" font-size="8.30" text-anchor="middle" font-weight="normal" >no Igs</text>
<text transform="translate(484.80,304.60) scale(0.940,1)" font-size="8.30" text-anchor="middle" font-weight="normal" >CAR46/28&#950;</text>
<text transform="translate(484.80,315.60) scale(0.940,1)" font-size="8.30" text-anchor="middle" font-weight="normal" >plus Igs</text>
<rect x="466.9" y="204.8" width="5.3" height="5.2" fill="#858585"/>
<rect x="466.9" y="212.4" width="5.3" height="5.3" fill="#0a0a0a"/>
<text transform="translate(476.80,209.50) scale(0.940,1)" font-size="8.30" text-anchor="start" font-weight="normal" >Day 0</text>
<text transform="translate(476.80,218.70) scale(0.940,1)" font-size="8.30" text-anchor="start" font-weight="normal" >Day +10</text>
<text transform="translate(378.1,274.0) rotate(-90) scale(0.94,1)" font-size="8.5">p/sec/cm<tspan dy="-3" font-size="5.4">2</tspan><tspan dy="3">/sr x 10</tspan><tspan dy="-3" font-size="5.4">6</tspan></text>
</svg>
</body></html>
